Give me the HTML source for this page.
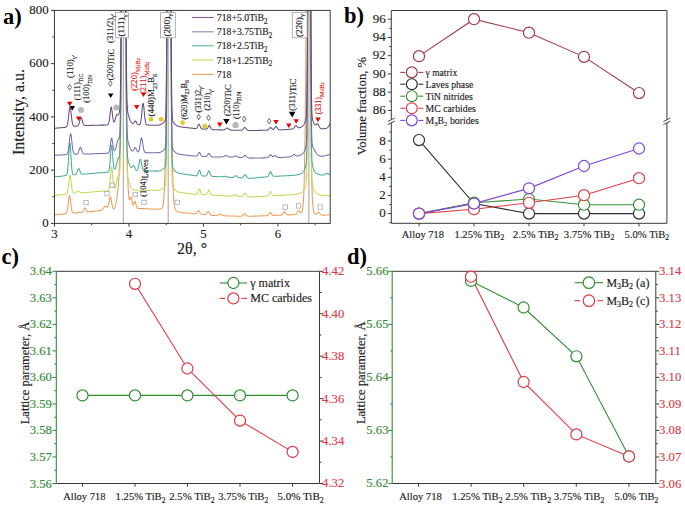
<!DOCTYPE html>
<html><head><meta charset="utf-8"><style>
html,body{margin:0;padding:0;background:#fff;}
svg{display:block;}
text{font-family:"Liberation Serif", serif;}
</style></head><body>
<svg width="685" height="507" viewBox="0 0 685 507">
<rect width="685" height="507" fill="#fff"/>
<clipPath id="clipA"><rect x="54.45" y="10.4" width="275.75" height="213.0"/></clipPath>
<line x1="123.30" y1="10.40" x2="123.30" y2="223.40" stroke="#8a8a8a" stroke-width="0.8" />
<line x1="168.20" y1="10.40" x2="168.20" y2="223.40" stroke="#8a8a8a" stroke-width="0.8" />
<line x1="308.90" y1="10.40" x2="308.90" y2="223.40" stroke="#8a8a8a" stroke-width="0.8" />
<g clip-path="url(#clipA)">
<path d="M54.45,214.94 L54.70,214.91 L54.95,214.89 L55.20,214.87 L55.45,214.84 L55.70,214.82 L55.95,214.79 L56.20,214.77 L56.45,214.75 L56.70,214.72 L56.95,214.70 L57.20,214.68 L57.45,214.65 L57.70,214.63 L57.95,214.60 L58.20,214.58 L58.45,214.55 L58.70,214.53 L58.95,214.51 L59.20,214.48 L59.45,214.46 L59.70,214.43 L59.95,214.41 L60.20,214.38 L60.45,214.35 L60.70,214.33 L60.95,214.30 L61.20,214.28 L61.45,214.25 L61.70,214.22 L61.95,214.20 L62.20,214.17 L62.45,214.14 L62.70,214.11 L62.95,214.08 L63.20,214.05 L63.45,214.02 L63.70,213.99 L63.95,213.95 L64.20,213.92 L64.45,213.88 L64.70,213.84 L64.95,213.80 L65.20,213.74 L65.45,213.67 L65.70,213.57 L65.95,213.43 L66.20,213.21 L66.45,212.89 L66.70,212.41 L66.95,211.72 L67.20,210.76 L67.45,209.49 L67.70,207.89 L67.95,205.97 L68.20,203.82 L68.45,201.56 L68.70,199.39 L68.95,197.52 L69.20,196.19 L69.45,195.60 L69.70,195.82 L69.95,196.83 L70.20,198.46 L70.45,200.50 L70.70,202.70 L70.95,204.87 L71.20,206.84 L71.45,208.53 L71.70,209.89 L71.95,210.92 L72.20,211.66 L72.45,212.17 L72.70,212.51 L72.95,212.71 L73.20,212.84 L73.45,212.90 L73.70,212.94 L73.95,212.95 L74.20,212.96 L74.45,212.95 L74.70,212.95 L74.95,212.93 L75.20,212.92 L75.45,212.91 L75.70,212.89 L75.95,212.88 L76.20,212.86 L76.45,212.84 L76.70,212.83 L76.95,212.81 L77.20,212.79 L77.45,212.77 L77.70,212.75 L77.95,212.73 L78.20,212.70 L78.45,212.68 L78.70,212.66 L78.95,212.64 L79.20,212.62 L79.45,212.59 L79.70,212.57 L79.95,212.54 L80.20,212.52 L80.45,212.49 L80.70,212.46 L80.95,212.42 L81.20,212.38 L81.45,212.33 L81.70,212.25 L81.95,212.15 L82.20,212.00 L82.45,211.80 L82.70,211.53 L82.95,211.19 L83.20,210.76 L83.45,210.27 L83.70,209.74 L83.95,209.20 L84.20,208.70 L84.45,208.29 L84.70,208.03 L84.95,207.94 L85.20,208.06 L85.45,208.34 L85.70,208.75 L85.95,209.22 L86.20,209.72 L86.45,210.20 L86.70,210.62 L86.95,210.96 L87.20,211.23 L87.45,211.43 L87.70,211.56 L87.95,211.64 L88.20,211.69 L88.45,211.71 L88.70,211.72 L88.95,211.71 L89.20,211.70 L89.45,211.68 L89.70,211.67 L89.95,211.65 L90.20,211.63 L90.45,211.61 L90.70,211.58 L90.95,211.56 L91.20,211.54 L91.45,211.52 L91.70,211.50 L91.95,211.48 L92.20,211.45 L92.45,211.43 L92.70,211.41 L92.95,211.39 L93.20,211.36 L93.45,211.34 L93.70,211.32 L93.95,211.29 L94.20,211.27 L94.45,211.25 L94.70,211.22 L94.95,211.20 L95.20,211.17 L95.45,211.15 L95.70,211.13 L95.95,211.10 L96.20,211.08 L96.45,211.05 L96.70,211.03 L96.95,211.00 L97.20,210.98 L97.45,210.95 L97.70,210.92 L97.95,210.89 L98.20,210.86 L98.45,210.83 L98.70,210.80 L98.95,210.76 L99.20,210.72 L99.45,210.67 L99.70,210.62 L99.95,210.56 L100.20,210.49 L100.45,210.42 L100.70,210.33 L100.95,210.22 L101.20,210.10 L101.45,209.95 L101.70,209.79 L101.95,209.59 L102.20,209.38 L102.45,209.14 L102.70,208.88 L102.95,208.61 L103.20,208.32 L103.45,208.02 L103.70,207.72 L103.95,207.43 L104.20,207.16 L104.45,206.91 L104.70,206.70 L104.95,206.53 L105.20,206.41 L105.45,206.34 L105.70,206.33 L105.95,206.37 L106.20,206.45 L106.45,206.57 L106.70,206.70 L106.95,206.83 L107.20,206.91 L107.45,206.91 L107.70,206.79 L107.95,206.49 L108.20,205.98 L108.45,205.21 L108.70,204.19 L108.95,202.93 L109.20,201.51 L109.45,200.05 L109.70,198.68 L109.95,197.58 L110.20,196.91 L110.45,196.78 L110.70,197.23 L110.95,198.20 L111.20,199.53 L111.45,201.08 L111.70,202.68 L111.95,204.19 L112.20,205.52 L112.45,206.62 L112.70,207.46 L112.95,208.05 L113.20,208.44 L113.45,208.65 L113.70,208.71 L113.95,208.65 L114.20,208.47 L114.45,208.18 L114.70,207.76 L114.95,207.21 L115.20,206.51 L115.45,205.65 L115.70,204.62 L115.95,203.43 L116.20,202.10 L116.45,200.65 L116.70,199.13 L116.95,197.55 L117.20,195.94 L117.45,194.28 L117.70,192.52 L117.95,190.52 L118.20,188.10 L118.45,185.01 L118.70,180.97 L118.95,175.67 L119.20,168.82 L119.45,160.13 L119.70,149.38 L119.95,136.40 L120.20,121.10 L120.45,103.42 L120.70,83.20 L120.95,59.53 L121.20,29.23 L121.45,-16.18 L121.70,-19.60 L121.95,-19.60 L122.20,-19.60 L122.45,-19.60 L122.70,-19.60 L122.95,-19.60 L123.20,-19.60 L123.45,-19.60 L123.70,-19.60 L123.95,-19.60 L124.20,-19.60 L124.45,-19.60 L124.70,-19.60 L124.95,-19.60 L125.20,-19.60 L125.45,4.72 L125.70,42.66 L125.95,69.83 L126.20,92.15 L126.45,111.63 L126.70,128.79 L126.95,143.72 L127.20,156.48 L127.45,167.16 L127.70,175.93 L127.95,182.98 L128.20,188.52 L128.45,192.74 L128.70,195.83 L128.95,197.94 L129.20,199.22 L129.45,199.79 L129.70,199.78 L129.95,199.36 L130.20,198.69 L130.45,197.97 L130.70,197.39 L130.95,197.14 L131.20,197.34 L131.45,198.01 L131.70,199.07 L131.95,200.37 L132.20,201.74 L132.45,203.01 L132.70,204.05 L132.95,204.76 L133.20,205.09 L133.45,205.03 L133.70,204.61 L133.95,203.94 L134.20,203.13 L134.45,202.35 L134.70,201.76 L134.95,201.51 L135.20,201.68 L135.45,202.23 L135.70,203.08 L135.95,204.07 L136.20,205.08 L136.45,206.00 L136.70,206.77 L136.95,207.36 L137.20,207.78 L137.45,208.06 L137.70,208.24 L137.95,208.34 L138.20,208.39 L138.45,208.42 L138.70,208.43 L138.95,208.44 L139.20,208.43 L139.45,208.43 L139.70,208.42 L139.95,208.42 L140.20,208.43 L140.45,208.44 L140.70,208.46 L140.95,208.47 L141.20,208.49 L141.45,208.50 L141.70,208.52 L141.95,208.53 L142.20,208.54 L142.45,208.56 L142.70,208.57 L142.95,208.58 L143.20,208.60 L143.45,208.61 L143.70,208.62 L143.95,208.63 L144.20,208.65 L144.45,208.66 L144.70,208.67 L144.95,208.68 L145.20,208.69 L145.45,208.71 L145.70,208.72 L145.95,208.73 L146.20,208.74 L146.45,208.75 L146.70,208.77 L146.95,208.78 L147.20,208.79 L147.45,208.80 L147.70,208.81 L147.95,208.82 L148.20,208.83 L148.45,208.85 L148.70,208.86 L148.95,208.87 L149.20,208.88 L149.45,208.89 L149.70,208.90 L149.95,208.91 L150.20,208.92 L150.45,208.94 L150.70,208.95 L150.95,208.96 L151.20,208.97 L151.45,208.98 L151.70,208.99 L151.95,209.00 L152.20,209.01 L152.45,209.02 L152.70,209.04 L152.95,209.05 L153.20,209.06 L153.45,209.07 L153.70,209.08 L153.95,209.09 L154.20,209.10 L154.45,209.11 L154.70,209.12 L154.95,209.13 L155.20,209.14 L155.45,209.15 L155.70,209.15 L155.95,209.16 L156.20,209.17 L156.45,209.17 L156.70,209.17 L156.95,209.18 L157.20,209.18 L157.45,209.17 L157.70,209.17 L157.95,209.16 L158.20,209.15 L158.45,209.14 L158.70,209.12 L158.95,209.10 L159.20,209.07 L159.45,209.03 L159.70,208.99 L159.95,208.94 L160.20,208.88 L160.45,208.81 L160.70,208.73 L160.95,208.63 L161.20,208.50 L161.45,208.35 L161.70,208.15 L161.95,207.88 L162.20,207.52 L162.45,207.03 L162.70,206.34 L162.95,205.40 L163.20,204.11 L163.45,202.33 L163.70,199.91 L163.95,196.63 L164.20,192.29 L164.45,186.62 L164.70,179.38 L164.95,170.28 L165.20,159.11 L165.45,145.66 L165.70,129.79 L165.95,111.38 L166.20,89.99 L166.45,64.00 L166.70,28.55 L166.95,-19.60 L167.20,-19.60 L167.45,-19.60 L167.70,-19.60 L167.95,-19.60 L168.20,-19.60 L168.45,-19.60 L168.70,-19.60 L168.95,-19.60 L169.20,-19.60 L169.45,-19.60 L169.70,-19.60 L169.95,-19.60 L170.20,-19.60 L170.45,-19.60 L170.70,-13.54 L170.95,37.53 L171.20,70.52 L171.45,95.43 L171.70,116.24 L171.95,134.20 L172.20,149.66 L172.45,162.72 L172.70,173.55 L172.95,182.33 L173.20,189.33 L173.45,194.79 L173.70,198.98 L173.95,202.15 L174.20,204.52 L174.45,206.26 L174.70,207.54 L174.95,208.48 L175.20,209.17 L175.45,209.69 L175.70,210.08 L175.95,210.38 L176.20,210.63 L176.45,210.83 L176.70,211.00 L176.95,211.15 L177.20,211.28 L177.45,211.40 L177.70,211.51 L177.95,211.61 L178.20,211.70 L178.45,211.79 L178.70,211.87 L178.95,211.94 L179.20,212.01 L179.45,212.08 L179.70,212.14 L179.95,212.20 L180.20,212.24 L180.45,212.28 L180.70,212.31 L180.95,212.35 L181.20,212.38 L181.45,212.41 L181.70,212.44 L181.95,212.47 L182.20,212.50 L182.45,212.53 L182.70,212.55 L182.95,212.58 L183.20,212.61 L183.45,212.63 L183.70,212.66 L183.95,212.68 L184.20,212.71 L184.45,212.73 L184.70,212.76 L184.95,212.78 L185.20,212.81 L185.45,212.83 L185.70,212.86 L185.95,212.88 L186.20,212.91 L186.45,212.93 L186.70,212.96 L186.95,212.98 L187.20,213.01 L187.45,213.03 L187.70,213.06 L187.95,213.08 L188.20,213.10 L188.45,213.13 L188.70,213.15 L188.95,213.18 L189.20,213.20 L189.45,213.23 L189.70,213.25 L189.95,213.28 L190.20,213.30 L190.45,213.32 L190.70,213.35 L190.95,213.37 L191.20,213.40 L191.45,213.42 L191.70,213.44 L191.95,213.47 L192.20,213.49 L192.45,213.51 L192.70,213.54 L192.95,213.56 L193.20,213.58 L193.45,213.60 L193.70,213.62 L193.95,213.64 L194.20,213.66 L194.45,213.67 L194.70,213.67 L194.95,213.66 L195.20,213.63 L195.45,213.58 L195.70,213.49 L195.95,213.36 L196.20,213.18 L196.45,212.94 L196.70,212.65 L196.95,212.31 L197.20,211.94 L197.45,211.56 L197.70,211.20 L197.95,210.91 L198.20,210.71 L198.45,210.63 L198.70,210.70 L198.95,210.90 L199.20,211.21 L199.45,211.60 L199.70,212.02 L199.95,212.45 L200.20,212.85 L200.45,213.21 L200.70,213.52 L200.95,213.77 L201.20,213.97 L201.45,214.12 L201.70,214.24 L201.95,214.32 L202.20,214.39 L202.45,214.44 L202.70,214.48 L202.95,214.51 L203.20,214.54 L203.45,214.56 L203.70,214.59 L203.95,214.61 L204.20,214.62 L204.45,214.63 L204.70,214.62 L204.95,214.60 L205.20,214.55 L205.45,214.48 L205.70,214.36 L205.95,214.19 L206.20,213.96 L206.45,213.68 L206.70,213.35 L206.95,212.99 L207.20,212.61 L207.45,212.24 L207.70,211.93 L207.95,211.71 L208.20,211.61 L208.45,211.65 L208.70,211.83 L208.95,212.12 L209.20,212.49 L209.45,212.91 L209.70,213.35 L209.95,213.76 L210.20,214.13 L210.45,214.45 L210.70,214.71 L210.95,214.92 L211.20,215.08 L211.45,215.21 L211.70,215.30 L211.95,215.37 L212.20,215.40 L212.45,215.43 L212.70,215.45 L212.95,215.46 L213.20,215.47 L213.45,215.48 L213.70,215.49 L213.95,215.50 L214.20,215.51 L214.45,215.51 L214.70,215.52 L214.95,215.52 L215.20,215.52 L215.45,215.52 L215.70,215.52 L215.95,215.51 L216.20,215.49 L216.45,215.46 L216.70,215.43 L216.95,215.38 L217.20,215.32 L217.45,215.25 L217.70,215.17 L217.95,215.07 L218.20,214.96 L218.45,214.84 L218.70,214.71 L218.95,214.59 L219.20,214.48 L219.45,214.38 L219.70,214.29 L219.95,214.24 L220.20,214.22 L220.45,214.23 L220.70,214.27 L220.95,214.35 L221.20,214.45 L221.45,214.57 L221.70,214.70 L221.95,214.83 L222.20,214.97 L222.45,215.10 L222.70,215.23 L222.95,215.34 L223.20,215.43 L223.45,215.52 L223.70,215.59 L223.95,215.65 L224.20,215.70 L224.45,215.73 L224.70,215.76 L224.95,215.79 L225.20,215.81 L225.45,215.83 L225.70,215.84 L225.95,215.85 L226.20,215.86 L226.45,215.87 L226.70,215.88 L226.95,215.89 L227.20,215.90 L227.45,215.90 L227.70,215.91 L227.95,215.92 L228.20,215.93 L228.45,215.94 L228.70,215.94 L228.95,215.95 L229.20,215.96 L229.45,215.96 L229.70,215.97 L229.95,215.98 L230.20,215.99 L230.45,215.99 L230.70,216.00 L230.95,216.01 L231.20,216.02 L231.45,216.02 L231.70,216.03 L231.95,216.04 L232.20,216.04 L232.45,216.05 L232.70,216.06 L232.95,216.06 L233.20,216.07 L233.45,216.08 L233.70,216.08 L233.95,216.09 L234.20,216.10 L234.45,216.10 L234.70,216.11 L234.95,216.12 L235.20,216.12 L235.45,216.13 L235.70,216.14 L235.95,216.14 L236.20,216.15 L236.45,216.16 L236.70,216.16 L236.95,216.17 L237.20,216.18 L237.45,216.18 L237.70,216.19 L237.95,216.19 L238.20,216.20 L238.45,216.21 L238.70,216.21 L238.95,216.22 L239.20,216.22 L239.45,216.23 L239.70,216.23 L239.95,216.23 L240.20,216.23 L240.45,216.23 L240.70,216.23 L240.95,216.21 L241.20,216.18 L241.45,216.14 L241.70,216.07 L241.95,215.97 L242.20,215.84 L242.45,215.67 L242.70,215.46 L242.95,215.21 L243.20,214.93 L243.45,214.64 L243.70,214.36 L243.95,214.11 L244.20,213.92 L244.45,213.81 L244.70,213.80 L244.95,213.89 L245.20,214.07 L245.45,214.31 L245.70,214.58 L245.95,214.87 L246.20,215.15 L246.45,215.41 L246.70,215.63 L246.95,215.81 L247.20,215.95 L247.45,216.05 L247.70,216.12 L247.95,216.17 L248.20,216.21 L248.45,216.23 L248.70,216.25 L248.95,216.26 L249.20,216.26 L249.45,216.27 L249.70,216.27 L249.95,216.27 L250.20,216.27 L250.45,216.26 L250.70,216.25 L250.95,216.25 L251.20,216.24 L251.45,216.23 L251.70,216.22 L251.95,216.21 L252.20,216.21 L252.45,216.20 L252.70,216.19 L252.95,216.18 L253.20,216.17 L253.45,216.17 L253.70,216.16 L253.95,216.15 L254.20,216.14 L254.45,216.13 L254.70,216.13 L254.95,216.12 L255.20,216.11 L255.45,216.10 L255.70,216.09 L255.95,216.08 L256.20,216.07 L256.45,216.07 L256.70,216.06 L256.95,216.05 L257.20,216.04 L257.45,216.03 L257.70,216.02 L257.95,216.01 L258.20,216.01 L258.45,216.00 L258.70,215.99 L258.95,215.98 L259.20,215.97 L259.45,215.96 L259.70,215.95 L259.95,215.94 L260.20,215.94 L260.45,215.93 L260.70,215.92 L260.95,215.91 L261.20,215.90 L261.45,215.89 L261.70,215.88 L261.95,215.87 L262.20,215.86 L262.45,215.85 L262.70,215.84 L262.95,215.84 L263.20,215.83 L263.45,215.82 L263.70,215.81 L263.95,215.80 L264.20,215.79 L264.45,215.78 L264.70,215.76 L264.95,215.75 L265.20,215.74 L265.45,215.73 L265.70,215.71 L265.95,215.69 L266.20,215.67 L266.45,215.63 L266.70,215.59 L266.95,215.52 L267.20,215.43 L267.45,215.30 L267.70,215.14 L267.95,214.92 L268.20,214.66 L268.45,214.36 L268.70,214.02 L268.95,213.66 L269.20,213.31 L269.45,213.01 L269.70,212.77 L269.95,212.63 L270.20,212.61 L270.45,212.71 L270.70,212.91 L270.95,213.19 L271.20,213.51 L271.45,213.85 L271.70,214.18 L271.95,214.48 L272.20,214.73 L272.45,214.94 L272.70,215.09 L272.95,215.21 L273.20,215.29 L273.45,215.34 L273.70,215.38 L273.95,215.39 L274.20,215.40 L274.45,215.40 L274.70,215.40 L274.95,215.40 L275.20,215.39 L275.45,215.39 L275.70,215.38 L275.95,215.37 L276.20,215.37 L276.45,215.36 L276.70,215.35 L276.95,215.34 L277.20,215.33 L277.45,215.32 L277.70,215.31 L277.95,215.31 L278.20,215.30 L278.45,215.29 L278.70,215.28 L278.95,215.27 L279.20,215.25 L279.45,215.24 L279.70,215.23 L279.95,215.21 L280.20,215.19 L280.45,215.17 L280.70,215.13 L280.95,215.08 L281.20,215.01 L281.45,214.92 L281.70,214.78 L281.95,214.60 L282.20,214.36 L282.45,214.07 L282.70,213.72 L282.95,213.33 L283.20,212.92 L283.45,212.51 L283.70,212.14 L283.95,211.85 L284.20,211.66 L284.45,211.61 L284.70,211.70 L284.95,211.92 L285.20,212.23 L285.45,212.60 L285.70,213.00 L285.95,213.39 L286.20,213.74 L286.45,214.05 L286.70,214.30 L286.95,214.50 L287.20,214.65 L287.45,214.75 L287.70,214.82 L287.95,214.86 L288.20,214.88 L288.45,214.89 L288.70,214.89 L288.95,214.88 L289.20,214.88 L289.45,214.86 L289.70,214.85 L289.95,214.84 L290.20,214.83 L290.45,214.81 L290.70,214.80 L290.95,214.79 L291.20,214.77 L291.45,214.76 L291.70,214.74 L291.95,214.73 L292.20,214.71 L292.45,214.70 L292.70,214.68 L292.95,214.67 L293.20,214.65 L293.45,214.63 L293.70,214.61 L293.95,214.59 L294.20,214.57 L294.45,214.54 L294.70,214.50 L294.95,214.46 L295.20,214.40 L295.45,214.31 L295.70,214.20 L295.95,214.04 L296.20,213.84 L296.45,213.58 L296.70,213.26 L296.95,212.89 L297.20,212.47 L297.45,212.04 L297.70,211.61 L297.95,211.23 L298.20,210.92 L298.45,210.73 L298.70,210.67 L298.95,210.75 L299.20,210.94 L299.45,211.21 L299.70,211.53 L299.95,211.86 L300.20,212.19 L300.45,212.47 L300.70,212.68 L300.95,212.80 L301.20,212.83 L301.45,212.74 L301.70,212.52 L301.95,212.12 L302.20,211.50 L302.45,210.56 L302.70,209.20 L302.95,207.26 L303.20,204.56 L303.45,200.86 L303.70,195.90 L303.95,189.39 L304.20,181.01 L304.45,170.49 L304.70,157.55 L304.95,141.98 L305.20,123.55 L305.45,101.62 L305.70,74.08 L305.95,35.01 L306.20,-19.60 L306.45,-19.60 L306.70,-19.60 L306.95,-19.60 L307.20,-19.60 L307.45,-19.60 L307.70,-19.60 L307.95,-19.60 L308.20,-19.60 L308.45,-19.60 L308.70,-19.60 L308.95,-19.60 L309.20,-19.60 L309.45,-19.60 L309.70,-19.60 L309.95,13.65 L310.20,60.59 L310.45,91.72 L310.70,115.53 L310.95,135.27 L311.20,151.96 L311.45,165.95 L311.70,177.44 L311.95,186.67 L312.20,193.92 L312.45,199.49 L312.70,203.68 L312.95,206.78 L313.20,209.03 L313.45,210.65 L313.70,211.78 L313.95,212.59 L314.20,213.15 L314.45,213.54 L314.70,213.81 L314.95,214.01 L315.20,214.14 L315.45,214.22 L315.70,214.26 L315.95,214.24 L316.20,214.18 L316.45,214.06 L316.70,213.89 L316.95,213.67 L317.20,213.40 L317.45,213.10 L317.70,212.79 L317.95,212.51 L318.20,212.28 L318.45,212.14 L318.70,212.11 L318.95,212.20 L319.20,212.39 L319.45,212.67 L319.70,213.01 L319.95,213.38 L320.20,213.74 L320.45,214.07 L320.70,214.37 L320.95,214.62 L321.20,214.82 L321.45,214.97 L321.70,215.09 L321.95,215.18 L322.20,215.24 L322.45,215.28 L322.70,215.32 L322.95,215.34 L323.20,215.33 L323.45,215.32 L323.70,215.30 L323.95,215.27 L324.20,215.25 L324.45,215.23 L324.70,215.21 L324.95,215.18 L325.20,215.16 L325.45,215.14 L325.70,215.11 L325.95,215.09 L326.20,215.06 L326.45,215.04 L326.70,215.02 L326.95,214.99 L327.20,214.97 L327.45,214.94 L327.70,214.92 L327.95,214.89 L328.20,214.87 L328.45,214.84 L328.70,214.82 L328.95,214.80 L329.20,214.77 L329.45,214.75 L329.70,214.72 L329.95,214.70 L330.20,214.67" fill="none" stroke="#f09a55" stroke-width="1.05" stroke-linejoin="round"/>
<path d="M54.45,195.44 L54.70,195.41 L54.95,195.39 L55.20,195.36 L55.45,195.34 L55.70,195.32 L55.95,195.29 L56.20,195.27 L56.45,195.25 L56.70,195.22 L56.95,195.20 L57.20,195.17 L57.45,195.15 L57.70,195.13 L57.95,195.10 L58.20,195.08 L58.45,195.05 L58.70,195.03 L58.95,195.01 L59.20,194.98 L59.45,194.96 L59.70,194.93 L59.95,194.91 L60.20,194.88 L60.45,194.86 L60.70,194.83 L60.95,194.80 L61.20,194.78 L61.45,194.75 L61.70,194.73 L61.95,194.70 L62.20,194.67 L62.45,194.64 L62.70,194.62 L62.95,194.59 L63.20,194.56 L63.45,194.53 L63.70,194.50 L63.95,194.47 L64.20,194.43 L64.45,194.40 L64.70,194.36 L64.95,194.33 L65.20,194.28 L65.45,194.24 L65.70,194.18 L65.95,194.10 L66.20,194.00 L66.45,193.85 L66.70,193.62 L66.95,193.28 L67.20,192.78 L67.45,192.05 L67.70,191.04 L67.95,189.70 L68.20,188.01 L68.45,185.99 L68.70,183.72 L68.95,181.34 L69.20,179.04 L69.45,177.07 L69.70,175.67 L69.95,175.04 L70.20,175.28 L70.45,176.35 L70.70,178.07 L70.95,180.22 L71.20,182.54 L71.45,184.83 L71.70,186.92 L71.95,188.70 L72.20,190.12 L72.45,191.21 L72.70,191.99 L72.95,192.52 L73.20,192.86 L73.45,193.06 L73.70,193.16 L73.95,193.20 L74.20,193.19 L74.45,193.15 L74.70,193.08 L74.95,192.99 L75.20,192.87 L75.45,192.73 L75.70,192.57 L75.95,192.40 L76.20,192.22 L76.45,192.03 L76.70,191.84 L76.95,191.67 L77.20,191.51 L77.45,191.38 L77.70,191.29 L77.95,191.24 L78.20,191.23 L78.45,191.27 L78.70,191.35 L78.95,191.46 L79.20,191.59 L79.45,191.74 L79.70,191.89 L79.95,192.04 L80.20,192.19 L80.45,192.32 L80.70,192.43 L80.95,192.53 L81.20,192.61 L81.45,192.67 L81.70,192.71 L81.95,192.74 L82.20,192.76 L82.45,192.77 L82.70,192.77 L82.95,192.76 L83.20,192.75 L83.45,192.74 L83.70,192.72 L83.95,192.70 L84.20,192.69 L84.45,192.67 L84.70,192.65 L84.95,192.62 L85.20,192.60 L85.45,192.58 L85.70,192.56 L85.95,192.54 L86.20,192.52 L86.45,192.50 L86.70,192.47 L86.95,192.45 L87.20,192.43 L87.45,192.41 L87.70,192.39 L87.95,192.36 L88.20,192.34 L88.45,192.32 L88.70,192.30 L88.95,192.27 L89.20,192.25 L89.45,192.23 L89.70,192.21 L89.95,192.18 L90.20,192.16 L90.45,192.14 L90.70,192.12 L90.95,192.09 L91.20,192.07 L91.45,192.05 L91.70,192.03 L91.95,192.00 L92.20,191.98 L92.45,191.96 L92.70,191.93 L92.95,191.91 L93.20,191.89 L93.45,191.87 L93.70,191.84 L93.95,191.82 L94.20,191.80 L94.45,191.77 L94.70,191.75 L94.95,191.73 L95.20,191.70 L95.45,191.68 L95.70,191.66 L95.95,191.63 L96.20,191.61 L96.45,191.59 L96.70,191.56 L96.95,191.54 L97.20,191.52 L97.45,191.49 L97.70,191.47 L97.95,191.45 L98.20,191.42 L98.45,191.40 L98.70,191.37 L98.95,191.35 L99.20,191.33 L99.45,191.30 L99.70,191.28 L99.95,191.25 L100.20,191.24 L100.45,191.23 L100.70,191.22 L100.95,191.22 L101.20,191.21 L101.45,191.20 L101.70,191.19 L101.95,191.18 L102.20,191.17 L102.45,191.16 L102.70,191.15 L102.95,191.14 L103.20,191.13 L103.45,191.12 L103.70,191.11 L103.95,191.09 L104.20,191.08 L104.45,191.07 L104.70,191.05 L104.95,191.04 L105.20,191.02 L105.45,191.01 L105.70,190.99 L105.95,190.97 L106.20,190.95 L106.45,190.93 L106.70,190.90 L106.95,190.87 L107.20,190.84 L107.45,190.79 L107.70,190.73 L107.95,190.64 L108.20,190.49 L108.45,190.25 L108.70,189.87 L108.95,189.27 L109.20,188.35 L109.45,187.04 L109.70,185.25 L109.95,182.94 L110.20,180.15 L110.45,177.02 L110.70,173.79 L110.95,170.80 L111.20,168.42 L111.45,167.03 L111.70,166.86 L111.95,167.93 L112.20,170.05 L112.45,172.86 L112.70,175.96 L112.95,179.02 L113.20,181.76 L113.45,184.02 L113.70,185.74 L113.95,186.93 L114.20,187.66 L114.45,188.01 L114.70,188.04 L114.95,187.84 L115.20,187.43 L115.45,186.85 L115.70,186.11 L115.95,185.24 L116.20,184.26 L116.45,183.18 L116.70,182.05 L116.95,180.92 L117.20,179.84 L117.45,178.86 L117.70,178.02 L117.95,177.34 L118.20,176.84 L118.45,176.46 L118.70,176.16 L118.95,175.86 L119.20,175.40 L119.45,174.58 L119.70,172.98 L119.95,169.88 L120.20,164.06 L120.45,153.52 L120.70,135.33 L120.95,105.50 L121.20,59.19 L121.45,-8.63 L121.70,-19.60 L121.95,-19.60 L122.20,-19.60 L122.45,-19.60 L122.70,-19.60 L122.95,-19.60 L123.20,-19.60 L123.45,-19.60 L123.70,-19.60 L123.95,-19.60 L124.20,-19.60 L124.45,-19.60 L124.70,-19.60 L124.95,-19.60 L125.20,-19.60 L125.45,-19.60 L125.70,-19.60 L125.95,47.71 L126.20,98.06 L126.45,130.96 L126.70,151.37 L126.95,163.50 L127.20,170.49 L127.45,174.51 L127.70,176.90 L127.95,178.47 L128.20,179.62 L128.45,180.57 L128.70,181.41 L128.95,182.20 L129.20,182.94 L129.45,183.64 L129.70,184.29 L129.95,184.91 L130.20,185.48 L130.45,186.02 L130.70,186.51 L130.95,186.96 L131.20,187.37 L131.45,187.74 L131.70,188.07 L131.95,188.37 L132.20,188.64 L132.45,188.88 L132.70,189.08 L132.95,189.27 L133.20,189.42 L133.45,189.56 L133.70,189.68 L133.95,189.78 L134.20,189.87 L134.45,189.94 L134.70,190.00 L134.95,190.05 L135.20,190.09 L135.45,190.13 L135.70,190.15 L135.95,190.17 L136.20,190.19 L136.45,190.20 L136.70,190.21 L136.95,190.22 L137.20,190.22 L137.45,190.22 L137.70,190.22 L137.95,190.22 L138.20,190.22 L138.45,190.21 L138.70,190.21 L138.95,190.21 L139.20,190.20 L139.45,190.20 L139.70,190.19 L139.95,190.18 L140.20,190.19 L140.45,190.19 L140.70,190.19 L140.95,190.20 L141.20,190.20 L141.45,190.20 L141.70,190.21 L141.95,190.21 L142.20,190.21 L142.45,190.22 L142.70,190.22 L142.95,190.22 L143.20,190.23 L143.45,190.23 L143.70,190.23 L143.95,190.24 L144.20,190.24 L144.45,190.24 L144.70,190.25 L144.95,190.25 L145.20,190.25 L145.45,190.26 L145.70,190.26 L145.95,190.26 L146.20,190.27 L146.45,190.27 L146.70,190.27 L146.95,190.28 L147.20,190.28 L147.45,190.28 L147.70,190.28 L147.95,190.29 L148.20,190.29 L148.45,190.29 L148.70,190.30 L148.95,190.30 L149.20,190.30 L149.45,190.31 L149.70,190.31 L149.95,190.31 L150.20,190.32 L150.45,190.32 L150.70,190.32 L150.95,190.33 L151.20,190.33 L151.45,190.33 L151.70,190.34 L151.95,190.34 L152.20,190.34 L152.45,190.34 L152.70,190.35 L152.95,190.35 L153.20,190.35 L153.45,190.36 L153.70,190.36 L153.95,190.36 L154.20,190.36 L154.45,190.37 L154.70,190.37 L154.95,190.37 L155.20,190.37 L155.45,190.37 L155.70,190.37 L155.95,190.37 L156.20,190.37 L156.45,190.36 L156.70,190.36 L156.95,190.35 L157.20,190.35 L157.45,190.34 L157.70,190.32 L157.95,190.31 L158.20,190.29 L158.45,190.27 L158.70,190.24 L158.95,190.21 L159.20,190.17 L159.45,190.12 L159.70,190.07 L159.95,190.02 L160.20,189.95 L160.45,189.87 L160.70,189.79 L160.95,189.69 L161.20,189.58 L161.45,189.46 L161.70,189.33 L161.95,189.19 L162.20,189.03 L162.45,188.86 L162.70,188.67 L162.95,188.48 L163.20,188.27 L163.45,188.04 L163.70,187.81 L163.95,187.56 L164.20,187.33 L164.45,187.08 L164.70,186.79 L164.95,186.39 L165.20,185.75 L165.45,184.50 L165.70,181.89 L165.95,176.48 L166.20,165.70 L166.45,145.46 L166.70,109.97 L166.95,52.16 L167.20,-19.60 L167.45,-19.60 L167.70,-19.60 L167.95,-19.60 L168.20,-19.60 L168.45,-19.60 L168.70,-19.60 L168.95,-19.60 L169.20,-19.60 L169.45,-19.60 L169.70,-19.60 L169.95,-19.60 L170.20,-19.60 L170.45,-19.60 L170.70,-19.60 L170.95,21.64 L171.20,90.49 L171.45,134.08 L171.70,159.70 L171.95,173.74 L172.20,180.98 L172.45,184.54 L172.70,186.28 L172.95,187.17 L173.20,187.70 L173.45,188.08 L173.70,188.40 L173.95,188.70 L174.20,188.99 L174.45,189.26 L174.70,189.52 L174.95,189.77 L175.20,190.01 L175.45,190.23 L175.70,190.45 L175.95,190.64 L176.20,190.83 L176.45,191.00 L176.70,191.16 L176.95,191.30 L177.20,191.44 L177.45,191.56 L177.70,191.68 L177.95,191.78 L178.20,191.88 L178.45,191.96 L178.70,192.05 L178.95,192.12 L179.20,192.19 L179.45,192.25 L179.70,192.31 L179.95,192.37 L180.20,192.42 L180.45,192.46 L180.70,192.51 L180.95,192.55 L181.20,192.59 L181.45,192.63 L181.70,192.67 L181.95,192.71 L182.20,192.74 L182.45,192.78 L182.70,192.81 L182.95,192.85 L183.20,192.88 L183.45,192.91 L183.70,192.94 L183.95,192.98 L184.20,193.01 L184.45,193.04 L184.70,193.07 L184.95,193.10 L185.20,193.13 L185.45,193.16 L185.70,193.20 L185.95,193.23 L186.20,193.26 L186.45,193.29 L186.70,193.32 L186.95,193.35 L187.20,193.38 L187.45,193.41 L187.70,193.44 L187.95,193.47 L188.20,193.50 L188.45,193.54 L188.70,193.57 L188.95,193.60 L189.20,193.63 L189.45,193.66 L189.70,193.69 L189.95,193.72 L190.20,193.75 L190.45,193.78 L190.70,193.81 L190.95,193.84 L191.20,193.87 L191.45,193.90 L191.70,193.93 L191.95,193.96 L192.20,193.99 L192.45,194.02 L192.70,194.05 L192.95,194.08 L193.20,194.11 L193.45,194.14 L193.70,194.17 L193.95,194.19 L194.20,194.22 L194.45,194.25 L194.70,194.28 L194.95,194.30 L195.20,194.32 L195.45,194.34 L195.70,194.36 L195.95,194.36 L196.20,194.33 L196.45,194.26 L196.70,194.15 L196.95,193.97 L197.20,193.70 L197.45,193.33 L197.70,192.83 L197.95,192.23 L198.20,191.54 L198.45,190.82 L198.70,190.13 L198.95,189.57 L199.20,189.22 L199.45,189.14 L199.70,189.35 L199.95,189.82 L200.20,190.46 L200.45,191.19 L200.70,191.93 L200.95,192.61 L201.20,193.20 L201.45,193.66 L201.70,194.01 L201.95,194.26 L202.20,194.43 L202.45,194.54 L202.70,194.62 L202.95,194.66 L203.20,194.70 L203.45,194.72 L203.70,194.74 L203.95,194.75 L204.20,194.76 L204.45,194.77 L204.70,194.78 L204.95,194.79 L205.20,194.78 L205.45,194.77 L205.70,194.74 L205.95,194.68 L206.20,194.58 L206.45,194.42 L206.70,194.18 L206.95,193.85 L207.20,193.40 L207.45,192.85 L207.70,192.23 L207.95,191.57 L208.20,190.95 L208.45,190.44 L208.70,190.12 L208.95,190.06 L209.20,190.25 L209.45,190.68 L209.70,191.27 L209.95,191.93 L210.20,192.61 L210.45,193.23 L210.70,193.76 L210.95,194.19 L211.20,194.51 L211.45,194.74 L211.70,194.89 L211.95,195.00 L212.20,195.07 L212.45,195.11 L212.70,195.15 L212.95,195.17 L213.20,195.19 L213.45,195.21 L213.70,195.23 L213.95,195.24 L214.20,195.26 L214.45,195.27 L214.70,195.28 L214.95,195.30 L215.20,195.31 L215.45,195.32 L215.70,195.34 L215.95,195.35 L216.20,195.36 L216.45,195.38 L216.70,195.39 L216.95,195.40 L217.20,195.41 L217.45,195.43 L217.70,195.44 L217.95,195.45 L218.20,195.46 L218.45,195.48 L218.70,195.49 L218.95,195.50 L219.20,195.51 L219.45,195.52 L219.70,195.53 L219.95,195.55 L220.20,195.56 L220.45,195.57 L220.70,195.58 L220.95,195.59 L221.20,195.61 L221.45,195.62 L221.70,195.63 L221.95,195.64 L222.20,195.65 L222.45,195.66 L222.70,195.67 L222.95,195.69 L223.20,195.70 L223.45,195.71 L223.70,195.72 L223.95,195.73 L224.20,195.74 L224.45,195.76 L224.70,195.77 L224.95,195.78 L225.20,195.79 L225.45,195.80 L225.70,195.81 L225.95,195.82 L226.20,195.83 L226.45,195.85 L226.70,195.86 L226.95,195.87 L227.20,195.88 L227.45,195.89 L227.70,195.90 L227.95,195.91 L228.20,195.92 L228.45,195.93 L228.70,195.95 L228.95,195.96 L229.20,195.97 L229.45,195.98 L229.70,195.99 L229.95,196.00 L230.20,196.01 L230.45,196.02 L230.70,196.03 L230.95,196.04 L231.20,196.04 L231.45,196.05 L231.70,196.05 L231.95,196.04 L232.20,196.02 L232.45,196.00 L232.70,195.95 L232.95,195.89 L233.20,195.80 L233.45,195.69 L233.70,195.56 L233.95,195.41 L234.20,195.25 L234.45,195.09 L234.70,194.94 L234.95,194.83 L235.20,194.77 L235.45,194.76 L235.70,194.81 L235.95,194.92 L236.20,195.07 L236.45,195.24 L236.70,195.42 L236.95,195.61 L237.20,195.77 L237.45,195.92 L237.70,196.04 L237.95,196.14 L238.20,196.22 L238.45,196.27 L238.70,196.32 L238.95,196.35 L239.20,196.37 L239.45,196.39 L239.70,196.41 L239.95,196.42 L240.20,196.43 L240.45,196.44 L240.70,196.44 L240.95,196.45 L241.20,196.44 L241.45,196.42 L241.70,196.39 L241.95,196.34 L242.20,196.26 L242.45,196.13 L242.70,195.96 L242.95,195.74 L243.20,195.45 L243.45,195.12 L243.70,194.74 L243.95,194.35 L244.20,193.97 L244.45,193.63 L244.70,193.38 L244.95,193.24 L245.20,193.24 L245.45,193.38 L245.70,193.63 L245.95,193.98 L246.20,194.38 L246.45,194.80 L246.70,195.21 L246.95,195.57 L247.20,195.89 L247.45,196.16 L247.70,196.36 L247.95,196.52 L248.20,196.64 L248.45,196.72 L248.70,196.78 L248.95,196.83 L249.20,196.86 L249.45,196.88 L249.70,196.91 L249.95,196.92 L250.20,196.92 L250.45,196.91 L250.70,196.90 L250.95,196.90 L251.20,196.89 L251.45,196.88 L251.70,196.87 L251.95,196.86 L252.20,196.84 L252.45,196.83 L252.70,196.82 L252.95,196.81 L253.20,196.80 L253.45,196.79 L253.70,196.78 L253.95,196.77 L254.20,196.76 L254.45,196.75 L254.70,196.74 L254.95,196.72 L255.20,196.71 L255.45,196.70 L255.70,196.69 L255.95,196.68 L256.20,196.67 L256.45,196.66 L256.70,196.64 L256.95,196.63 L257.20,196.62 L257.45,196.61 L257.70,196.60 L257.95,196.59 L258.20,196.57 L258.45,196.56 L258.70,196.55 L258.95,196.54 L259.20,196.53 L259.45,196.52 L259.70,196.50 L259.95,196.49 L260.20,196.48 L260.45,196.47 L260.70,196.46 L260.95,196.44 L261.20,196.43 L261.45,196.42 L261.70,196.41 L261.95,196.39 L262.20,196.38 L262.45,196.37 L262.70,196.36 L262.95,196.34 L263.20,196.33 L263.45,196.32 L263.70,196.30 L263.95,196.29 L264.20,196.28 L264.45,196.26 L264.70,196.25 L264.95,196.24 L265.20,196.22 L265.45,196.21 L265.70,196.19 L265.95,196.18 L266.20,196.16 L266.45,196.14 L266.70,196.11 L266.95,196.08 L267.20,196.04 L267.45,195.97 L267.70,195.88 L267.95,195.73 L268.20,195.53 L268.45,195.24 L268.70,194.85 L268.95,194.37 L269.20,193.81 L269.45,193.20 L269.70,192.60 L269.95,192.07 L270.20,191.68 L270.45,191.50 L270.70,191.56 L270.95,191.85 L271.20,192.31 L271.45,192.86 L271.70,193.45 L271.95,194.01 L272.20,194.50 L272.45,194.90 L272.70,195.20 L272.95,195.41 L273.20,195.55 L273.45,195.64 L273.70,195.69 L273.95,195.71 L274.20,195.72 L274.45,195.72 L274.70,195.72 L274.95,195.71 L275.20,195.70 L275.45,195.69 L275.70,195.68 L275.95,195.66 L276.20,195.65 L276.45,195.64 L276.70,195.63 L276.95,195.61 L277.20,195.60 L277.45,195.59 L277.70,195.57 L277.95,195.56 L278.20,195.54 L278.45,195.53 L278.70,195.52 L278.95,195.50 L279.20,195.49 L279.45,195.47 L279.70,195.46 L279.95,195.44 L280.20,195.43 L280.45,195.41 L280.70,195.40 L280.95,195.38 L281.20,195.37 L281.45,195.35 L281.70,195.34 L281.95,195.32 L282.20,195.31 L282.45,195.29 L282.70,195.27 L282.95,195.26 L283.20,195.24 L283.45,195.23 L283.70,195.21 L283.95,195.19 L284.20,195.18 L284.45,195.16 L284.70,195.14 L284.95,195.13 L285.20,195.11 L285.45,195.09 L285.70,195.08 L285.95,195.06 L286.20,195.04 L286.45,195.02 L286.70,195.01 L286.95,194.99 L287.20,194.97 L287.45,194.95 L287.70,194.93 L287.95,194.92 L288.20,194.90 L288.45,194.88 L288.70,194.86 L288.95,194.84 L289.20,194.82 L289.45,194.80 L289.70,194.78 L289.95,194.76 L290.20,194.74 L290.45,194.72 L290.70,194.70 L290.95,194.68 L291.20,194.65 L291.45,194.63 L291.70,194.61 L291.95,194.59 L292.20,194.56 L292.45,194.54 L292.70,194.52 L292.95,194.49 L293.20,194.46 L293.45,194.44 L293.70,194.41 L293.95,194.38 L294.20,194.36 L294.45,194.33 L294.70,194.30 L294.95,194.27 L295.20,194.23 L295.45,194.20 L295.70,194.17 L295.95,194.13 L296.20,194.09 L296.45,194.05 L296.70,194.01 L296.95,193.97 L297.20,193.92 L297.45,193.88 L297.70,193.82 L297.95,193.77 L298.20,193.71 L298.45,193.65 L298.70,193.58 L298.95,193.51 L299.20,193.43 L299.45,193.34 L299.70,193.25 L299.95,193.15 L300.20,193.07 L300.45,192.98 L300.70,192.88 L300.95,192.77 L301.20,192.65 L301.45,192.51 L301.70,192.36 L301.95,192.19 L302.20,192.00 L302.45,191.79 L302.70,191.56 L302.95,191.31 L303.20,191.03 L303.45,190.72 L303.70,190.37 L303.95,189.99 L304.20,189.57 L304.45,189.09 L304.70,188.56 L304.95,187.97 L305.20,187.29 L305.45,186.51 L305.70,185.58 L305.95,184.37 L306.20,182.57 L306.45,179.40 L306.70,173.08 L306.95,160.13 L307.20,134.61 L307.45,87.95 L307.70,10.59 L307.95,-19.60 L308.20,-19.60 L308.45,-19.60 L308.70,-19.60 L308.95,-19.60 L309.20,-19.60 L309.45,-19.60 L309.70,-19.60 L309.95,-19.60 L310.20,-19.60 L310.45,-19.60 L310.70,10.78 L310.95,88.18 L311.20,134.87 L311.45,160.43 L311.70,173.40 L311.95,179.75 L312.20,182.97 L312.45,184.80 L312.70,186.03 L312.95,187.00 L313.20,187.81 L313.45,188.52 L313.70,189.15 L313.95,189.71 L314.20,190.22 L314.45,190.68 L314.70,191.09 L314.95,191.47 L315.20,191.81 L315.45,192.12 L315.70,192.41 L315.95,192.67 L316.20,192.91 L316.45,193.13 L316.70,193.33 L316.95,193.52 L317.20,193.69 L317.45,193.84 L317.70,193.99 L317.95,194.12 L318.20,194.24 L318.45,194.35 L318.70,194.45 L318.95,194.55 L319.20,194.63 L319.45,194.72 L319.70,194.79 L319.95,194.86 L320.20,194.92 L320.45,194.98 L320.70,195.03 L320.95,195.07 L321.20,195.12 L321.45,195.16 L321.70,195.20 L321.95,195.24 L322.20,195.27 L322.45,195.30 L322.70,195.34 L322.95,195.37 L323.20,195.40 L323.45,195.42 L323.70,195.45 L323.95,195.48 L324.20,195.50 L324.45,195.52 L324.70,195.55 L324.95,195.57 L325.20,195.59 L325.45,195.61 L325.70,195.63 L325.95,195.65 L326.20,195.67 L326.45,195.69 L326.70,195.71 L326.95,195.73 L327.20,195.75 L327.45,195.76 L327.70,195.78 L327.95,195.80 L328.20,195.82 L328.45,195.83 L328.70,195.85 L328.95,195.86 L329.20,195.88 L329.45,195.89 L329.70,195.91 L329.95,195.92 L330.20,195.94" fill="none" stroke="#c6d856" stroke-width="1.05" stroke-linejoin="round"/>
<path d="M54.45,176.92 L54.70,176.90 L54.95,176.88 L55.20,176.85 L55.45,176.83 L55.70,176.80 L55.95,176.78 L56.20,176.76 L56.45,176.73 L56.70,176.71 L56.95,176.68 L57.20,176.66 L57.45,176.63 L57.70,176.61 L57.95,176.58 L58.20,176.56 L58.45,176.53 L58.70,176.51 L58.95,176.48 L59.20,176.46 L59.45,176.43 L59.70,176.41 L59.95,176.38 L60.20,176.35 L60.45,176.33 L60.70,176.30 L60.95,176.27 L61.20,176.24 L61.45,176.22 L61.70,176.19 L61.95,176.16 L62.20,176.13 L62.45,176.10 L62.70,176.07 L62.95,176.03 L63.20,176.00 L63.45,175.97 L63.70,175.93 L63.95,175.89 L64.20,175.85 L64.45,175.81 L64.70,175.77 L64.95,175.72 L65.20,175.66 L65.45,175.60 L65.70,175.52 L65.95,175.42 L66.20,175.27 L66.45,175.04 L66.70,174.67 L66.95,174.08 L67.20,173.17 L67.45,171.81 L67.70,169.87 L67.95,167.26 L68.20,163.94 L68.45,160.00 L68.70,155.65 L68.95,151.24 L69.20,147.27 L69.45,144.25 L69.70,142.68 L69.95,142.83 L70.20,144.68 L70.45,147.88 L70.70,151.93 L70.95,156.31 L71.20,160.56 L71.45,164.35 L71.70,167.48 L71.95,169.90 L72.20,171.66 L72.45,172.87 L72.70,173.66 L72.95,174.14 L73.20,174.43 L73.45,174.59 L73.70,174.68 L73.95,174.72 L74.20,174.74 L74.45,174.73 L74.70,174.71 L74.95,174.67 L75.20,174.61 L75.45,174.50 L75.70,174.35 L75.95,174.14 L76.20,173.85 L76.45,173.46 L76.70,172.98 L76.95,172.41 L77.20,171.75 L77.45,171.05 L77.70,170.34 L77.95,169.69 L78.20,169.15 L78.45,168.79 L78.70,168.65 L78.95,168.75 L79.20,169.08 L79.45,169.58 L79.70,170.20 L79.95,170.87 L80.20,171.54 L80.45,172.16 L80.70,172.70 L80.95,173.14 L81.20,173.49 L81.45,173.75 L81.70,173.94 L81.95,174.06 L82.20,174.14 L82.45,174.18 L82.70,174.20 L82.95,174.21 L83.20,174.20 L83.45,174.19 L83.70,174.18 L83.95,174.16 L84.20,174.15 L84.45,174.13 L84.70,174.11 L84.95,174.09 L85.20,174.07 L85.45,174.05 L85.70,174.03 L85.95,174.01 L86.20,173.99 L86.45,173.97 L86.70,173.95 L86.95,173.93 L87.20,173.91 L87.45,173.89 L87.70,173.87 L87.95,173.85 L88.20,173.82 L88.45,173.80 L88.70,173.78 L88.95,173.76 L89.20,173.74 L89.45,173.71 L89.70,173.69 L89.95,173.67 L90.20,173.65 L90.45,173.63 L90.70,173.60 L90.95,173.58 L91.20,173.56 L91.45,173.54 L91.70,173.51 L91.95,173.49 L92.20,173.47 L92.45,173.45 L92.70,173.42 L92.95,173.40 L93.20,173.38 L93.45,173.35 L93.70,173.33 L93.95,173.31 L94.20,173.29 L94.45,173.26 L94.70,173.24 L94.95,173.22 L95.20,173.19 L95.45,173.17 L95.70,173.15 L95.95,173.12 L96.20,173.10 L96.45,173.08 L96.70,173.05 L96.95,173.03 L97.20,173.01 L97.45,172.98 L97.70,172.96 L97.95,172.94 L98.20,172.91 L98.45,172.89 L98.70,172.86 L98.95,172.84 L99.20,172.82 L99.45,172.79 L99.70,172.77 L99.95,172.74 L100.20,172.73 L100.45,172.72 L100.70,172.70 L100.95,172.69 L101.20,172.68 L101.45,172.67 L101.70,172.65 L101.95,172.64 L102.20,172.63 L102.45,172.61 L102.70,172.60 L102.95,172.59 L103.20,172.57 L103.45,172.56 L103.70,172.54 L103.95,172.53 L104.20,172.51 L104.45,172.49 L104.70,172.48 L104.95,172.46 L105.20,172.44 L105.45,172.42 L105.70,172.39 L105.95,172.37 L106.20,172.35 L106.45,172.32 L106.70,172.29 L106.95,172.25 L107.20,172.21 L107.45,172.16 L107.70,172.09 L107.95,171.98 L108.20,171.81 L108.45,171.54 L108.70,171.11 L108.95,170.43 L109.20,169.40 L109.45,167.92 L109.70,165.90 L109.95,163.30 L110.20,160.16 L110.45,156.64 L110.70,153.01 L110.95,149.65 L111.20,146.97 L111.45,145.40 L111.70,145.21 L111.95,146.43 L112.20,148.81 L112.45,151.98 L112.70,155.48 L112.95,158.92 L113.20,162.01 L113.45,164.57 L113.70,166.53 L113.95,167.89 L114.20,168.74 L114.45,169.16 L114.70,169.24 L114.95,169.07 L115.20,168.67 L115.45,168.10 L115.70,167.37 L115.95,166.50 L116.20,165.51 L116.45,164.44 L116.70,163.31 L116.95,162.18 L117.20,161.09 L117.45,160.11 L117.70,159.27 L117.95,158.59 L118.20,158.08 L118.45,157.70 L118.70,157.40 L118.95,157.09 L119.20,156.64 L119.45,155.81 L119.70,154.21 L119.95,151.11 L120.20,145.28 L120.45,134.74 L120.70,116.55 L120.95,86.71 L121.20,40.40 L121.45,-19.60 L121.70,-19.60 L121.95,-19.60 L122.20,-19.60 L122.45,-19.60 L122.70,-19.60 L122.95,-19.60 L123.20,-19.60 L123.45,-19.60 L123.70,-19.60 L123.95,-19.60 L124.20,-19.60 L124.45,-19.60 L124.70,-19.60 L124.95,-19.60 L125.20,-19.60 L125.45,-19.60 L125.70,-19.60 L125.95,28.84 L126.20,79.19 L126.45,112.08 L126.70,132.49 L126.95,144.61 L127.20,151.59 L127.45,155.61 L127.70,158.00 L127.95,159.55 L128.20,160.70 L128.45,161.64 L128.70,162.47 L128.95,163.25 L129.20,163.97 L129.45,164.65 L129.70,165.27 L129.95,165.84 L130.20,166.35 L130.45,166.78 L130.70,167.13 L130.95,167.38 L131.20,167.52 L131.45,167.55 L131.70,167.45 L131.95,167.25 L132.20,166.96 L132.45,166.61 L132.70,166.25 L132.95,165.93 L133.20,165.70 L133.45,165.61 L133.70,165.70 L133.95,165.97 L134.20,166.40 L134.45,166.94 L134.70,167.55 L134.95,168.16 L135.20,168.75 L135.45,169.28 L135.70,169.72 L135.95,170.06 L136.20,170.31 L136.45,170.45 L136.70,170.50 L136.95,170.44 L137.20,170.26 L137.45,169.95 L137.70,169.48 L137.95,168.82 L138.20,167.97 L138.45,166.93 L138.70,165.70 L138.95,164.35 L139.20,162.96 L139.45,161.62 L139.70,160.46 L139.95,159.62 L140.20,159.18 L140.45,159.22 L140.70,159.73 L140.95,160.64 L141.20,161.83 L141.45,163.17 L141.70,164.55 L141.95,165.87 L142.20,167.05 L142.45,168.06 L142.70,168.87 L142.95,169.49 L143.20,169.95 L143.45,170.27 L143.70,170.49 L143.95,170.63 L144.20,170.72 L144.45,170.78 L144.70,170.81 L144.95,170.83 L145.20,170.85 L145.45,170.87 L145.70,170.88 L145.95,170.90 L146.20,170.91 L146.45,170.92 L146.70,170.93 L146.95,170.94 L147.20,170.95 L147.45,170.96 L147.70,170.97 L147.95,170.97 L148.20,170.98 L148.45,170.99 L148.70,171.00 L148.95,171.00 L149.20,171.01 L149.45,171.02 L149.70,171.02 L149.95,171.03 L150.20,171.03 L150.45,171.04 L150.70,171.04 L150.95,171.05 L151.20,171.05 L151.45,171.06 L151.70,171.07 L151.95,171.07 L152.20,171.08 L152.45,171.08 L152.70,171.08 L152.95,171.09 L153.20,171.09 L153.45,171.10 L153.70,171.10 L153.95,171.11 L154.20,171.11 L154.45,171.11 L154.70,171.12 L154.95,171.12 L155.20,171.12 L155.45,171.12 L155.70,171.13 L155.95,171.13 L156.20,171.12 L156.45,171.12 L156.70,171.12 L156.95,171.12 L157.20,171.11 L157.45,171.10 L157.70,171.09 L157.95,171.07 L158.20,171.06 L158.45,171.03 L158.70,171.01 L158.95,170.98 L159.20,170.94 L159.45,170.90 L159.70,170.85 L159.95,170.79 L160.20,170.72 L160.45,170.65 L160.70,170.57 L160.95,170.47 L161.20,170.36 L161.45,170.25 L161.70,170.11 L161.95,169.97 L162.20,169.81 L162.45,169.64 L162.70,169.46 L162.95,169.26 L163.20,169.06 L163.45,168.83 L163.70,168.60 L163.95,168.36 L164.20,168.12 L164.45,167.88 L164.70,167.59 L164.95,167.20 L165.20,166.56 L165.45,165.32 L165.70,162.72 L165.95,157.31 L166.20,146.53 L166.45,126.29 L166.70,90.81 L166.95,33.00 L167.20,-19.60 L167.45,-19.60 L167.70,-19.60 L167.95,-19.60 L168.20,-19.60 L168.45,-19.60 L168.70,-19.60 L168.95,-19.60 L169.20,-19.60 L169.45,-19.60 L169.70,-19.60 L169.95,-19.60 L170.20,-19.60 L170.45,-19.60 L170.70,-19.60 L170.95,2.56 L171.20,71.41 L171.45,115.01 L171.70,140.63 L171.95,154.68 L172.20,161.92 L172.45,165.49 L172.70,167.22 L172.95,168.12 L173.20,168.65 L173.45,169.04 L173.70,169.37 L173.95,169.67 L174.20,169.96 L174.45,170.24 L174.70,170.51 L174.95,170.76 L175.20,171.00 L175.45,171.23 L175.70,171.44 L175.95,171.65 L176.20,171.83 L176.45,172.01 L176.70,172.17 L176.95,172.32 L177.20,172.46 L177.45,172.59 L177.70,172.71 L177.95,172.82 L178.20,172.92 L178.45,173.01 L178.70,173.10 L178.95,173.18 L179.20,173.25 L179.45,173.32 L179.70,173.38 L179.95,173.44 L180.20,173.50 L180.45,173.55 L180.70,173.60 L180.95,173.64 L181.20,173.69 L181.45,173.73 L181.70,173.78 L181.95,173.82 L182.20,173.86 L182.45,173.90 L182.70,173.93 L182.95,173.97 L183.20,174.01 L183.45,174.05 L183.70,174.08 L183.95,174.12 L184.20,174.16 L184.45,174.19 L184.70,174.23 L184.95,174.26 L185.20,174.30 L185.45,174.33 L185.70,174.37 L185.95,174.41 L186.20,174.44 L186.45,174.48 L186.70,174.51 L186.95,174.55 L187.20,174.58 L187.45,174.62 L187.70,174.65 L187.95,174.69 L188.20,174.72 L188.45,174.76 L188.70,174.79 L188.95,174.83 L189.20,174.86 L189.45,174.90 L189.70,174.93 L189.95,174.97 L190.20,175.00 L190.45,175.04 L190.70,175.07 L190.95,175.11 L191.20,175.14 L191.45,175.18 L191.70,175.21 L191.95,175.24 L192.20,175.28 L192.45,175.31 L192.70,175.35 L192.95,175.38 L193.20,175.41 L193.45,175.44 L193.70,175.48 L193.95,175.51 L194.20,175.54 L194.45,175.57 L194.70,175.60 L194.95,175.63 L195.20,175.66 L195.45,175.68 L195.70,175.70 L195.95,175.70 L196.20,175.69 L196.45,175.64 L196.70,175.54 L196.95,175.36 L197.20,175.07 L197.45,174.66 L197.70,174.12 L197.95,173.46 L198.20,172.70 L198.45,171.90 L198.70,171.15 L198.95,170.53 L199.20,170.14 L199.45,170.05 L199.70,170.28 L199.95,170.79 L200.20,171.48 L200.45,172.28 L200.70,173.08 L200.95,173.82 L201.20,174.45 L201.45,174.95 L201.70,175.33 L201.95,175.59 L202.20,175.78 L202.45,175.89 L202.70,175.97 L202.95,176.02 L203.20,176.05 L203.45,176.07 L203.70,176.08 L203.95,176.09 L204.20,176.10 L204.45,176.11 L204.70,176.11 L204.95,176.11 L205.20,176.10 L205.45,176.08 L205.70,176.05 L205.95,175.98 L206.20,175.86 L206.45,175.68 L206.70,175.41 L206.95,175.04 L207.20,174.54 L207.45,173.94 L207.70,173.24 L207.95,172.52 L208.20,171.83 L208.45,171.26 L208.70,170.91 L208.95,170.83 L209.20,171.04 L209.45,171.50 L209.70,172.14 L209.95,172.88 L210.20,173.61 L210.45,174.29 L210.70,174.87 L210.95,175.33 L211.20,175.68 L211.45,175.93 L211.70,176.10 L211.95,176.21 L212.20,176.28 L212.45,176.32 L212.70,176.36 L212.95,176.38 L213.20,176.39 L213.45,176.41 L213.70,176.42 L213.95,176.43 L214.20,176.45 L214.45,176.47 L214.70,176.48 L214.95,176.50 L215.20,176.52 L215.45,176.53 L215.70,176.55 L215.95,176.56 L216.20,176.58 L216.45,176.60 L216.70,176.61 L216.95,176.63 L217.20,176.64 L217.45,176.65 L217.70,176.67 L217.95,176.68 L218.20,176.70 L218.45,176.71 L218.70,176.73 L218.95,176.74 L219.20,176.75 L219.45,176.77 L219.70,176.78 L219.95,176.79 L220.20,176.80 L220.45,176.80 L220.70,176.81 L220.95,176.81 L221.20,176.80 L221.45,176.79 L221.70,176.78 L221.95,176.76 L222.20,176.73 L222.45,176.69 L222.70,176.65 L222.95,176.60 L223.20,176.54 L223.45,176.49 L223.70,176.43 L223.95,176.38 L224.20,176.34 L224.45,176.31 L224.70,176.29 L224.95,176.30 L225.20,176.32 L225.45,176.35 L225.70,176.41 L225.95,176.47 L226.20,176.55 L226.45,176.63 L226.70,176.71 L226.95,176.79 L227.20,176.87 L227.45,176.95 L227.70,177.02 L227.95,177.08 L228.20,177.13 L228.45,177.18 L228.70,177.22 L228.95,177.25 L229.20,177.28 L229.45,177.30 L229.70,177.33 L229.95,177.35 L230.20,177.36 L230.45,177.38 L230.70,177.39 L230.95,177.41 L231.20,177.42 L231.45,177.42 L231.70,177.43 L231.95,177.43 L232.20,177.42 L232.45,177.39 L232.70,177.35 L232.95,177.29 L233.20,177.20 L233.45,177.07 L233.70,176.92 L233.95,176.74 L234.20,176.53 L234.45,176.31 L234.70,176.10 L234.95,175.91 L235.20,175.77 L235.45,175.70 L235.70,175.70 L235.95,175.78 L236.20,175.94 L236.45,176.14 L236.70,176.37 L236.95,176.61 L237.20,176.85 L237.45,177.06 L237.70,177.25 L237.95,177.40 L238.20,177.52 L238.45,177.62 L238.70,177.69 L238.95,177.74 L239.20,177.78 L239.45,177.80 L239.70,177.82 L239.95,177.84 L240.20,177.85 L240.45,177.86 L240.70,177.87 L240.95,177.87 L241.20,177.86 L241.45,177.85 L241.70,177.81 L241.95,177.76 L242.20,177.68 L242.45,177.55 L242.70,177.38 L242.95,177.15 L243.20,176.87 L243.45,176.54 L243.70,176.16 L243.95,175.77 L244.20,175.38 L244.45,175.05 L244.70,174.79 L244.95,174.65 L245.20,174.65 L245.45,174.79 L245.70,175.04 L245.95,175.39 L246.20,175.79 L246.45,176.21 L246.70,176.61 L246.95,176.98 L247.20,177.30 L247.45,177.56 L247.70,177.77 L247.95,177.93 L248.20,178.04 L248.45,178.12 L248.70,178.18 L248.95,178.23 L249.20,178.26 L249.45,178.28 L249.70,178.30 L249.95,178.32 L250.20,178.31 L250.45,178.29 L250.70,178.27 L250.95,178.25 L251.20,178.23 L251.45,178.21 L251.70,178.19 L251.95,178.17 L252.20,178.15 L252.45,178.13 L252.70,178.11 L252.95,178.09 L253.20,178.07 L253.45,178.05 L253.70,178.03 L253.95,178.01 L254.20,177.98 L254.45,177.96 L254.70,177.94 L254.95,177.92 L255.20,177.90 L255.45,177.88 L255.70,177.86 L255.95,177.83 L256.20,177.81 L256.45,177.79 L256.70,177.77 L256.95,177.75 L257.20,177.72 L257.45,177.70 L257.70,177.68 L257.95,177.66 L258.20,177.64 L258.45,177.62 L258.70,177.59 L258.95,177.57 L259.20,177.55 L259.45,177.53 L259.70,177.50 L259.95,177.48 L260.20,177.46 L260.45,177.44 L260.70,177.42 L260.95,177.39 L261.20,177.37 L261.45,177.35 L261.70,177.33 L261.95,177.30 L262.20,177.28 L262.45,177.26 L262.70,177.23 L262.95,177.21 L263.20,177.19 L263.45,177.16 L263.70,177.14 L263.95,177.12 L264.20,177.09 L264.45,177.07 L264.70,177.05 L264.95,177.02 L265.20,177.00 L265.45,176.97 L265.70,176.94 L265.95,176.92 L266.20,176.89 L266.45,176.86 L266.70,176.82 L266.95,176.78 L267.20,176.72 L267.45,176.64 L267.70,176.52 L267.95,176.36 L268.20,176.12 L268.45,175.78 L268.70,175.35 L268.95,174.81 L269.20,174.17 L269.45,173.49 L269.70,172.81 L269.95,172.21 L270.20,171.77 L270.45,171.57 L270.70,171.63 L270.95,171.93 L271.20,172.43 L271.45,173.04 L271.70,173.69 L271.95,174.30 L272.20,174.85 L272.45,175.30 L272.70,175.64 L272.95,175.88 L273.20,176.04 L273.45,176.14 L273.70,176.20 L273.95,176.24 L274.20,176.25 L274.45,176.26 L274.70,176.26 L274.95,176.26 L275.20,176.25 L275.45,176.25 L275.70,176.24 L275.95,176.23 L276.20,176.22 L276.45,176.22 L276.70,176.21 L276.95,176.20 L277.20,176.19 L277.45,176.18 L277.70,176.17 L277.95,176.16 L278.20,176.15 L278.45,176.14 L278.70,176.13 L278.95,176.12 L279.20,176.11 L279.45,176.10 L279.70,176.09 L279.95,176.08 L280.20,176.07 L280.45,176.06 L280.70,176.05 L280.95,176.04 L281.20,176.03 L281.45,176.02 L281.70,176.01 L281.95,176.00 L282.20,175.99 L282.45,175.97 L282.70,175.96 L282.95,175.95 L283.20,175.94 L283.45,175.93 L283.70,175.92 L283.95,175.91 L284.20,175.89 L284.45,175.88 L284.70,175.87 L284.95,175.86 L285.20,175.84 L285.45,175.83 L285.70,175.82 L285.95,175.81 L286.20,175.79 L286.45,175.78 L286.70,175.77 L286.95,175.75 L287.20,175.74 L287.45,175.73 L287.70,175.71 L287.95,175.70 L288.20,175.68 L288.45,175.67 L288.70,175.66 L288.95,175.64 L289.20,175.63 L289.45,175.61 L289.70,175.60 L289.95,175.58 L290.20,175.56 L290.45,175.55 L290.70,175.53 L290.95,175.51 L291.20,175.50 L291.45,175.48 L291.70,175.46 L291.95,175.44 L292.20,175.42 L292.45,175.40 L292.70,175.38 L292.95,175.36 L293.20,175.34 L293.45,175.32 L293.70,175.30 L293.95,175.28 L294.20,175.25 L294.45,175.23 L294.70,175.20 L294.95,175.17 L295.20,175.15 L295.45,175.12 L295.70,175.09 L295.95,175.06 L296.20,175.02 L296.45,174.99 L296.70,174.95 L296.95,174.91 L297.20,174.87 L297.45,174.83 L297.70,174.78 L297.95,174.73 L298.20,174.68 L298.45,174.62 L298.70,174.55 L298.95,174.49 L299.20,174.41 L299.45,174.33 L299.70,174.24 L299.95,174.15 L300.20,174.05 L300.45,173.95 L300.70,173.84 L300.95,173.72 L301.20,173.58 L301.45,173.43 L301.70,173.27 L301.95,173.09 L302.20,172.89 L302.45,172.67 L302.70,172.43 L302.95,172.16 L303.20,171.87 L303.45,171.54 L303.70,171.19 L303.95,170.79 L304.20,170.35 L304.45,169.87 L304.70,169.32 L304.95,168.71 L305.20,168.02 L305.45,167.23 L305.70,166.29 L305.95,165.07 L306.20,163.26 L306.45,160.07 L306.70,153.73 L306.95,140.78 L307.20,115.24 L307.45,68.57 L307.70,-8.81 L307.95,-19.60 L308.20,-19.60 L308.45,-19.60 L308.70,-19.60 L308.95,-19.60 L309.20,-19.60 L309.45,-19.60 L309.70,-19.60 L309.95,-19.60 L310.20,-19.60 L310.45,-19.60 L310.70,-8.77 L310.95,68.62 L311.20,115.29 L311.45,140.84 L311.70,153.80 L311.95,160.14 L312.20,163.34 L312.45,165.16 L312.70,166.39 L312.95,167.34 L313.20,168.14 L313.45,168.83 L313.70,169.45 L313.95,170.00 L314.20,170.49 L314.45,170.94 L314.70,171.34 L314.95,171.70 L315.20,172.03 L315.45,172.33 L315.70,172.61 L315.95,172.86 L316.20,173.08 L316.45,173.29 L316.70,173.48 L316.95,173.65 L317.20,173.80 L317.45,173.95 L317.70,174.08 L317.95,174.20 L318.20,174.30 L318.45,174.40 L318.70,174.49 L318.95,174.57 L319.20,174.65 L319.45,174.71 L319.70,174.78 L319.95,174.83 L320.20,174.88 L320.45,174.93 L320.70,174.97 L320.95,175.01 L321.20,175.04 L321.45,175.06 L321.70,175.08 L321.95,175.09 L322.20,175.09 L322.45,175.09 L322.70,175.08 L322.95,175.07 L323.20,175.04 L323.45,174.99 L323.70,174.93 L323.95,174.86 L324.20,174.76 L324.45,174.65 L324.70,174.52 L324.95,174.37 L325.20,174.21 L325.45,174.04 L325.70,173.87 L325.95,173.71 L326.20,173.56 L326.45,173.44 L326.70,173.35 L326.95,173.31 L327.20,173.30 L327.45,173.34 L327.70,173.43 L327.95,173.55 L328.20,173.69 L328.45,173.85 L328.70,174.02 L328.95,174.20 L329.20,174.36 L329.45,174.52 L329.70,174.66 L329.95,174.78 L330.20,174.89" fill="none" stroke="#4aab98" stroke-width="1.05" stroke-linejoin="round"/>
<path d="M54.45,155.25 L54.70,155.24 L54.95,155.23 L55.20,155.22 L55.45,155.21 L55.70,155.20 L55.95,155.19 L56.20,155.18 L56.45,155.17 L56.70,155.16 L56.95,155.15 L57.20,155.14 L57.45,155.13 L57.70,155.12 L57.95,155.11 L58.20,155.10 L58.45,155.09 L58.70,155.08 L58.95,155.07 L59.20,155.06 L59.45,155.05 L59.70,155.03 L59.95,155.02 L60.20,155.01 L60.45,155.00 L60.70,154.99 L60.95,154.97 L61.20,154.96 L61.45,154.95 L61.70,154.94 L61.95,154.92 L62.20,154.91 L62.45,154.89 L62.70,154.88 L62.95,154.86 L63.20,154.85 L63.45,154.83 L63.70,154.82 L63.95,154.80 L64.20,154.78 L64.45,154.76 L64.70,154.74 L64.95,154.72 L65.20,154.69 L65.45,154.66 L65.70,154.63 L65.95,154.58 L66.20,154.52 L66.45,154.44 L66.70,154.32 L66.95,154.14 L67.20,153.86 L67.45,153.45 L67.70,152.86 L67.95,152.03 L68.20,150.92 L68.45,149.47 L68.70,147.69 L68.95,145.60 L69.20,143.27 L69.45,140.82 L69.70,138.45 L69.95,136.34 L70.20,134.73 L70.45,133.82 L70.70,133.73 L70.95,134.46 L71.20,135.92 L71.45,137.93 L71.70,140.25 L71.95,142.67 L72.20,145.02 L72.45,147.14 L72.70,148.97 L72.95,150.46 L73.20,151.62 L73.45,152.48 L73.70,153.09 L73.95,153.51 L74.20,153.79 L74.45,153.96 L74.70,154.07 L74.95,154.14 L75.20,154.17 L75.45,154.19 L75.70,154.20 L75.95,154.20 L76.20,154.18 L76.45,154.15 L76.70,154.10 L76.95,154.02 L77.20,153.90 L77.45,153.72 L77.70,153.46 L77.95,153.11 L78.20,152.65 L78.45,152.08 L78.70,151.40 L78.95,150.63 L79.20,149.82 L79.45,149.02 L79.70,148.29 L79.95,147.71 L80.20,147.35 L80.45,147.26 L80.70,147.45 L80.95,147.89 L81.20,148.52 L81.45,149.28 L81.70,150.08 L81.95,150.87 L82.20,151.59 L82.45,152.22 L82.70,152.73 L82.95,153.14 L83.20,153.44 L83.45,153.65 L83.70,153.80 L83.95,153.90 L84.20,153.96 L84.45,153.99 L84.70,154.01 L84.95,154.03 L85.20,154.03 L85.45,154.03 L85.70,154.03 L85.95,154.03 L86.20,154.02 L86.45,154.02 L86.70,154.01 L86.95,154.01 L87.20,154.00 L87.45,154.00 L87.70,153.99 L87.95,153.98 L88.20,153.98 L88.45,153.97 L88.70,153.96 L88.95,153.95 L89.20,153.95 L89.45,153.94 L89.70,153.93 L89.95,153.92 L90.20,153.91 L90.45,153.91 L90.70,153.90 L90.95,153.89 L91.20,153.88 L91.45,153.87 L91.70,153.86 L91.95,153.85 L92.20,153.85 L92.45,153.84 L92.70,153.83 L92.95,153.82 L93.20,153.81 L93.45,153.80 L93.70,153.79 L93.95,153.78 L94.20,153.77 L94.45,153.77 L94.70,153.76 L94.95,153.75 L95.20,153.74 L95.45,153.73 L95.70,153.72 L95.95,153.71 L96.20,153.70 L96.45,153.69 L96.70,153.68 L96.95,153.67 L97.20,153.66 L97.45,153.65 L97.70,153.64 L97.95,153.63 L98.20,153.62 L98.45,153.61 L98.70,153.60 L98.95,153.59 L99.20,153.58 L99.45,153.57 L99.70,153.56 L99.95,153.55 L100.20,153.55 L100.45,153.54 L100.70,153.54 L100.95,153.53 L101.20,153.53 L101.45,153.52 L101.70,153.51 L101.95,153.51 L102.20,153.50 L102.45,153.50 L102.70,153.49 L102.95,153.48 L103.20,153.48 L103.45,153.47 L103.70,153.46 L103.95,153.45 L104.20,153.45 L104.45,153.44 L104.70,153.43 L104.95,153.42 L105.20,153.41 L105.45,153.40 L105.70,153.38 L105.95,153.37 L106.20,153.36 L106.45,153.34 L106.70,153.32 L106.95,153.30 L107.20,153.27 L107.45,153.23 L107.70,153.17 L107.95,153.08 L108.20,152.95 L108.45,152.73 L108.70,152.40 L108.95,151.91 L109.20,151.22 L109.45,150.27 L109.70,149.06 L109.95,147.57 L110.20,145.84 L110.45,143.98 L110.70,142.12 L110.95,140.43 L111.20,139.11 L111.45,138.34 L111.70,138.23 L111.95,138.80 L112.20,139.93 L112.45,141.47 L112.70,143.22 L112.95,144.98 L113.20,146.62 L113.45,148.01 L113.70,149.12 L113.95,149.91 L114.20,150.40 L114.45,150.62 L114.70,150.60 L114.95,150.37 L115.20,149.96 L115.45,149.38 L115.70,148.65 L115.95,147.78 L116.20,146.79 L116.45,145.71 L116.70,144.58 L116.95,143.45 L117.20,142.36 L117.45,141.38 L117.70,140.54 L117.95,139.87 L118.20,139.36 L118.45,138.99 L118.70,138.69 L118.95,138.38 L119.20,137.93 L119.45,137.11 L119.70,135.51 L119.95,132.41 L120.20,126.59 L120.45,116.06 L120.70,97.87 L120.95,68.04 L121.20,21.73 L121.45,-19.60 L121.70,-19.60 L121.95,-19.60 L122.20,-19.60 L122.45,-19.60 L122.70,-19.60 L122.95,-19.60 L123.20,-19.60 L123.45,-19.60 L123.70,-19.60 L123.95,-19.60 L124.20,-19.60 L124.45,-19.60 L124.70,-19.60 L124.95,-19.60 L125.20,-19.60 L125.45,-19.60 L125.70,-19.60 L125.95,10.28 L126.20,60.63 L126.45,93.53 L126.70,113.95 L126.95,126.07 L127.20,133.07 L127.45,137.08 L127.70,139.48 L127.95,141.05 L128.20,142.20 L128.45,143.15 L128.70,143.99 L128.95,144.78 L129.20,145.52 L129.45,146.21 L129.70,146.87 L129.95,147.48 L130.20,148.05 L130.45,148.58 L130.70,149.06 L130.95,149.50 L131.20,149.89 L131.45,150.22 L131.70,150.50 L131.95,150.72 L132.20,150.87 L132.45,150.94 L132.70,150.91 L132.95,150.78 L133.20,150.55 L133.45,150.22 L133.70,149.81 L133.95,149.33 L134.20,148.84 L134.45,148.38 L134.70,148.00 L134.95,147.76 L135.20,147.70 L135.45,147.83 L135.70,148.14 L135.95,148.58 L136.20,149.12 L136.45,149.70 L136.70,150.26 L136.95,150.78 L137.20,151.21 L137.45,151.54 L137.70,151.76 L137.95,151.85 L138.20,151.79 L138.45,151.58 L138.70,151.18 L138.95,150.57 L139.20,149.72 L139.45,148.62 L139.70,147.28 L139.95,145.72 L140.20,144.02 L140.45,142.28 L140.70,140.65 L140.95,139.28 L141.20,138.32 L141.45,137.90 L141.70,138.08 L141.95,138.83 L142.20,140.06 L142.45,141.60 L142.70,143.31 L142.95,145.04 L143.20,146.67 L143.45,148.11 L143.70,149.33 L143.95,150.30 L144.20,151.04 L144.45,151.59 L144.70,151.97 L144.95,152.23 L145.20,152.40 L145.45,152.51 L145.70,152.58 L145.95,152.63 L146.20,152.66 L146.45,152.68 L146.70,152.69 L146.95,152.70 L147.20,152.71 L147.45,152.71 L147.70,152.72 L147.95,152.72 L148.20,152.72 L148.45,152.73 L148.70,152.73 L148.95,152.73 L149.20,152.73 L149.45,152.73 L149.70,152.73 L149.95,152.73 L150.20,152.73 L150.45,152.73 L150.70,152.74 L150.95,152.74 L151.20,152.74 L151.45,152.74 L151.70,152.75 L151.95,152.75 L152.20,152.75 L152.45,152.75 L152.70,152.75 L152.95,152.75 L153.20,152.76 L153.45,152.76 L153.70,152.76 L153.95,152.76 L154.20,152.76 L154.45,152.76 L154.70,152.76 L154.95,152.76 L155.20,152.76 L155.45,152.75 L155.70,152.75 L155.95,152.75 L156.20,152.74 L156.45,152.74 L156.70,152.73 L156.95,152.72 L157.20,152.71 L157.45,152.70 L157.70,152.68 L157.95,152.67 L158.20,152.64 L158.45,152.62 L158.70,152.59 L158.95,152.55 L159.20,152.51 L159.45,152.47 L159.70,152.41 L159.95,152.35 L160.20,152.28 L160.45,152.20 L160.70,152.12 L160.95,152.02 L161.20,151.91 L161.45,151.78 L161.70,151.65 L161.95,151.50 L162.20,151.34 L162.45,151.17 L162.70,150.98 L162.95,150.78 L163.20,150.57 L163.45,150.34 L163.70,150.10 L163.95,149.85 L164.20,149.61 L164.45,149.36 L164.70,149.06 L164.95,148.67 L165.20,148.02 L165.45,146.76 L165.70,144.15 L165.95,138.74 L166.20,127.95 L166.45,107.70 L166.70,72.21 L166.95,14.40 L167.20,-19.60 L167.45,-19.60 L167.70,-19.60 L167.95,-19.60 L168.20,-19.60 L168.45,-19.60 L168.70,-19.60 L168.95,-19.60 L169.20,-19.60 L169.45,-19.60 L169.70,-19.60 L169.95,-19.60 L170.20,-19.60 L170.45,-19.60 L170.70,-19.60 L170.95,-16.20 L171.20,52.65 L171.45,96.24 L171.70,121.85 L171.95,135.89 L172.20,143.12 L172.45,146.68 L172.70,148.41 L172.95,149.29 L173.20,149.82 L173.45,150.20 L173.70,150.52 L173.95,150.81 L174.20,151.09 L174.45,151.36 L174.70,151.62 L174.95,151.86 L175.20,152.09 L175.45,152.31 L175.70,152.52 L175.95,152.71 L176.20,152.89 L176.45,153.06 L176.70,153.21 L176.95,153.35 L177.20,153.48 L177.45,153.60 L177.70,153.71 L177.95,153.81 L178.20,153.90 L178.45,153.99 L178.70,154.06 L178.95,154.13 L179.20,154.20 L179.45,154.26 L179.70,154.31 L179.95,154.36 L180.20,154.41 L180.45,154.45 L180.70,154.49 L180.95,154.53 L181.20,154.57 L181.45,154.60 L181.70,154.63 L181.95,154.67 L182.20,154.70 L182.45,154.73 L182.70,154.76 L182.95,154.78 L183.20,154.81 L183.45,154.84 L183.70,154.87 L183.95,154.90 L184.20,154.92 L184.45,154.95 L184.70,154.98 L184.95,155.00 L185.20,155.03 L185.45,155.06 L185.70,155.08 L185.95,155.11 L186.20,155.14 L186.45,155.16 L186.70,155.19 L186.95,155.22 L187.20,155.24 L187.45,155.27 L187.70,155.29 L187.95,155.32 L188.20,155.35 L188.45,155.37 L188.70,155.40 L188.95,155.43 L189.20,155.45 L189.45,155.48 L189.70,155.50 L189.95,155.53 L190.20,155.56 L190.45,155.58 L190.70,155.61 L190.95,155.63 L191.20,155.66 L191.45,155.68 L191.70,155.71 L191.95,155.74 L192.20,155.76 L192.45,155.79 L192.70,155.81 L192.95,155.84 L193.20,155.86 L193.45,155.89 L193.70,155.91 L193.95,155.94 L194.20,155.96 L194.45,155.98 L194.70,156.01 L194.95,156.03 L195.20,156.05 L195.45,156.07 L195.70,156.08 L195.95,156.09 L196.20,156.08 L196.45,156.05 L196.70,155.98 L196.95,155.87 L197.20,155.68 L197.45,155.42 L197.70,155.06 L197.95,154.63 L198.20,154.13 L198.45,153.60 L198.70,153.11 L198.95,152.70 L199.20,152.45 L199.45,152.40 L199.70,152.56 L199.95,152.90 L200.20,153.37 L200.45,153.91 L200.70,154.45 L200.95,154.95 L201.20,155.38 L201.45,155.72 L201.70,155.98 L201.95,156.16 L202.20,156.29 L202.45,156.37 L202.70,156.43 L202.95,156.47 L203.20,156.50 L203.45,156.52 L203.70,156.53 L203.95,156.55 L204.20,156.56 L204.45,156.57 L204.70,156.58 L204.95,156.59 L205.20,156.59 L205.45,156.59 L205.70,156.57 L205.95,156.53 L206.20,156.47 L206.45,156.36 L206.70,156.19 L206.95,155.96 L207.20,155.66 L207.45,155.28 L207.70,154.84 L207.95,154.39 L208.20,153.96 L208.45,153.60 L208.70,153.39 L208.95,153.34 L209.20,153.48 L209.45,153.78 L209.70,154.20 L209.95,154.67 L210.20,155.15 L210.45,155.59 L210.70,155.96 L210.95,156.26 L211.20,156.49 L211.45,156.66 L211.70,156.77 L211.95,156.85 L212.20,156.90 L212.45,156.94 L212.70,156.96 L212.95,156.98 L213.20,157.00 L213.45,157.02 L213.70,157.03 L213.95,157.05 L214.20,157.05 L214.45,157.05 L214.70,157.06 L214.95,157.06 L215.20,157.06 L215.45,157.06 L215.70,157.06 L215.95,157.06 L216.20,157.06 L216.45,157.06 L216.70,157.06 L216.95,157.06 L217.20,157.06 L217.45,157.06 L217.70,157.06 L217.95,157.06 L218.20,157.06 L218.45,157.06 L218.70,157.06 L218.95,157.06 L219.20,157.06 L219.45,157.06 L219.70,157.06 L219.95,157.05 L220.20,157.05 L220.45,157.04 L220.70,157.04 L220.95,157.03 L221.20,157.01 L221.45,156.99 L221.70,156.97 L221.95,156.94 L222.20,156.89 L222.45,156.84 L222.70,156.77 L222.95,156.69 L223.20,156.60 L223.45,156.49 L223.70,156.37 L223.95,156.25 L224.20,156.12 L224.45,155.99 L224.70,155.87 L224.95,155.76 L225.20,155.67 L225.45,155.61 L225.70,155.58 L225.95,155.58 L226.20,155.62 L226.45,155.68 L226.70,155.78 L226.95,155.89 L227.20,156.01 L227.45,156.14 L227.70,156.27 L227.95,156.40 L228.20,156.51 L228.45,156.61 L228.70,156.70 L228.95,156.78 L229.20,156.84 L229.45,156.90 L229.70,156.94 L229.95,156.97 L230.20,156.99 L230.45,157.00 L230.70,157.02 L230.95,157.02 L231.20,157.03 L231.45,157.03 L231.70,157.02 L231.95,157.02 L232.20,157.00 L232.45,156.98 L232.70,156.95 L232.95,156.90 L233.20,156.84 L233.45,156.76 L233.70,156.66 L233.95,156.54 L234.20,156.41 L234.45,156.27 L234.70,156.13 L234.95,156.01 L235.20,155.94 L235.45,155.90 L235.70,155.92 L235.95,155.98 L236.20,156.08 L236.45,156.21 L236.70,156.36 L236.95,156.52 L237.20,156.67 L237.45,156.81 L237.70,156.94 L237.95,157.04 L238.20,157.12 L238.45,157.19 L238.70,157.24 L238.95,157.29 L239.20,157.32 L239.45,157.35 L239.70,157.37 L239.95,157.39 L240.20,157.41 L240.45,157.43 L240.70,157.44 L240.95,157.45 L241.20,157.46 L241.45,157.46 L241.70,157.44 L241.95,157.41 L242.20,157.36 L242.45,157.28 L242.70,157.17 L242.95,157.02 L243.20,156.83 L243.45,156.60 L243.70,156.34 L243.95,156.07 L244.20,155.81 L244.45,155.57 L244.70,155.40 L244.95,155.31 L245.20,155.32 L245.45,155.43 L245.70,155.62 L245.95,155.88 L246.20,156.18 L246.45,156.48 L246.70,156.78 L246.95,157.06 L247.20,157.29 L247.45,157.49 L247.70,157.65 L247.95,157.77 L248.20,157.86 L248.45,157.93 L248.70,157.98 L248.95,158.02 L249.20,158.06 L249.45,158.08 L249.70,158.11 L249.95,158.13 L250.20,158.13 L250.45,158.13 L250.70,158.13 L250.95,158.13 L251.20,158.12 L251.45,158.12 L251.70,158.11 L251.95,158.11 L252.20,158.11 L252.45,158.10 L252.70,158.10 L252.95,158.09 L253.20,158.09 L253.45,158.08 L253.70,158.08 L253.95,158.07 L254.20,158.07 L254.45,158.06 L254.70,158.06 L254.95,158.05 L255.20,158.05 L255.45,158.04 L255.70,158.04 L255.95,158.03 L256.20,158.03 L256.45,158.02 L256.70,158.02 L256.95,158.01 L257.20,158.01 L257.45,158.00 L257.70,158.00 L257.95,157.99 L258.20,157.99 L258.45,157.98 L258.70,157.98 L258.95,157.97 L259.20,157.97 L259.45,157.96 L259.70,157.95 L259.95,157.95 L260.20,157.94 L260.45,157.94 L260.70,157.93 L260.95,157.93 L261.20,157.92 L261.45,157.92 L261.70,157.91 L261.95,157.90 L262.20,157.90 L262.45,157.89 L262.70,157.89 L262.95,157.88 L263.20,157.87 L263.45,157.87 L263.70,157.86 L263.95,157.85 L264.20,157.85 L264.45,157.84 L264.70,157.83 L264.95,157.82 L265.20,157.82 L265.45,157.81 L265.70,157.80 L265.95,157.79 L266.20,157.77 L266.45,157.75 L266.70,157.73 L266.95,157.69 L267.20,157.64 L267.45,157.57 L267.70,157.47 L267.95,157.33 L268.20,157.15 L268.45,156.92 L268.70,156.64 L268.95,156.32 L269.20,155.97 L269.45,155.62 L269.70,155.28 L269.95,155.00 L270.20,154.80 L270.45,154.71 L270.70,154.73 L270.95,154.87 L271.20,155.10 L271.45,155.38 L271.70,155.69 L271.95,155.98 L272.20,156.24 L272.45,156.43 L272.70,156.55 L272.95,156.59 L273.20,156.56 L273.45,156.45 L273.70,156.30 L273.95,156.11 L274.20,155.92 L274.45,155.76 L274.70,155.64 L274.95,155.58 L275.20,155.61 L275.45,155.71 L275.70,155.87 L275.95,156.07 L276.20,156.30 L276.45,156.52 L276.70,156.73 L276.95,156.92 L277.20,157.08 L277.45,157.20 L277.70,157.30 L277.95,157.37 L278.20,157.41 L278.45,157.44 L278.70,157.46 L278.95,157.47 L279.20,157.47 L279.45,157.47 L279.70,157.47 L279.95,157.47 L280.20,157.46 L280.45,157.46 L280.70,157.45 L280.95,157.45 L281.20,157.43 L281.45,157.42 L281.70,157.40 L281.95,157.39 L282.20,157.37 L282.45,157.36 L282.70,157.34 L282.95,157.33 L283.20,157.31 L283.45,157.30 L283.70,157.28 L283.95,157.27 L284.20,157.25 L284.45,157.23 L284.70,157.22 L284.95,157.20 L285.20,157.18 L285.45,157.17 L285.70,157.15 L285.95,157.13 L286.20,157.11 L286.45,157.10 L286.70,157.08 L286.95,157.06 L287.20,157.04 L287.45,157.02 L287.70,157.00 L287.95,156.99 L288.20,156.97 L288.45,156.95 L288.70,156.93 L288.95,156.90 L289.20,156.88 L289.45,156.86 L289.70,156.83 L289.95,156.80 L290.20,156.77 L290.45,156.72 L290.70,156.67 L290.95,156.59 L291.20,156.50 L291.45,156.38 L291.70,156.23 L291.95,156.04 L292.20,155.82 L292.45,155.58 L292.70,155.33 L292.95,155.08 L293.20,154.84 L293.45,154.66 L293.70,154.53 L293.95,154.48 L294.20,154.50 L294.45,154.60 L294.70,154.76 L294.95,154.94 L295.20,155.14 L295.45,155.34 L295.70,155.51 L295.95,155.66 L296.20,155.77 L296.45,155.85 L296.70,155.89 L296.95,155.92 L297.20,155.91 L297.45,155.90 L297.70,155.86 L297.95,155.82 L298.20,155.77 L298.45,155.71 L298.70,155.65 L298.95,155.58 L299.20,155.50 L299.45,155.42 L299.70,155.33 L299.95,155.23 L300.20,155.14 L300.45,155.04 L300.70,154.93 L300.95,154.80 L301.20,154.67 L301.45,154.52 L301.70,154.35 L301.95,154.17 L302.20,153.97 L302.45,153.75 L302.70,153.51 L302.95,153.24 L303.20,152.95 L303.45,152.63 L303.70,152.27 L303.95,151.88 L304.20,151.44 L304.45,150.95 L304.70,150.41 L304.95,149.80 L305.20,149.11 L305.45,148.32 L305.70,147.37 L305.95,146.15 L306.20,144.34 L306.45,141.15 L306.70,134.81 L306.95,121.86 L307.20,96.31 L307.45,49.65 L307.70,-19.60 L307.95,-19.60 L308.20,-19.60 L308.45,-19.60 L308.70,-19.60 L308.95,-19.60 L309.20,-19.60 L309.45,-19.60 L309.70,-19.60 L309.95,-19.60 L310.20,-19.60 L310.45,-19.60 L310.70,-19.60 L310.95,49.46 L311.20,96.06 L311.45,121.51 L311.70,134.37 L311.95,140.58 L312.20,143.63 L312.45,145.29 L312.70,146.34 L312.95,147.12 L313.20,147.75 L313.45,148.29 L313.70,148.76 L313.95,149.20 L314.20,149.62 L314.45,150.03 L314.70,150.45 L314.95,150.87 L315.20,151.30 L315.45,151.73 L315.70,152.15 L315.95,152.57 L316.20,152.97 L316.45,153.35 L316.70,153.70 L316.95,154.03 L317.20,154.32 L317.45,154.58 L317.70,154.81 L317.95,155.01 L318.20,155.18 L318.45,155.33 L318.70,155.46 L318.95,155.57 L319.20,155.67 L319.45,155.76 L319.70,155.83 L319.95,155.90 L320.20,155.96 L320.45,156.01 L320.70,156.06 L320.95,156.10 L321.20,156.14 L321.45,156.18 L321.70,156.22 L321.95,156.25 L322.20,156.22 L322.45,156.18 L322.70,156.14 L322.95,156.09 L323.20,156.05 L323.45,156.00 L323.70,155.95 L323.95,155.90 L324.20,155.85 L324.45,155.80 L324.70,155.75 L324.95,155.69 L325.20,155.64 L325.45,155.59 L325.70,155.53 L325.95,155.48 L326.20,155.42 L326.45,155.36 L326.70,155.31 L326.95,155.25 L327.20,155.19 L327.45,155.13 L327.70,155.08 L327.95,155.02 L328.20,154.96 L328.45,154.90 L328.70,154.84 L328.95,154.78 L329.20,154.72 L329.45,154.66 L329.70,154.60 L329.95,154.54 L330.20,154.48" fill="none" stroke="#6f6fae" stroke-width="1.05" stroke-linejoin="round"/>
<path d="M54.45,128.24 L54.70,128.22 L54.95,128.20 L55.20,128.18 L55.45,128.17 L55.70,128.15 L55.95,128.13 L56.20,128.11 L56.45,128.09 L56.70,128.07 L56.95,128.06 L57.20,128.04 L57.45,128.02 L57.70,128.00 L57.95,127.98 L58.20,127.96 L58.45,127.94 L58.70,127.92 L58.95,127.90 L59.20,127.88 L59.45,127.87 L59.70,127.85 L59.95,127.83 L60.20,127.81 L60.45,127.79 L60.70,127.76 L60.95,127.74 L61.20,127.72 L61.45,127.70 L61.70,127.68 L61.95,127.66 L62.20,127.64 L62.45,127.61 L62.70,127.59 L62.95,127.56 L63.20,127.54 L63.45,127.51 L63.70,127.49 L63.95,127.46 L64.20,127.43 L64.45,127.40 L64.70,127.36 L64.95,127.33 L65.20,127.28 L65.45,127.23 L65.70,127.16 L65.95,127.05 L66.20,126.91 L66.45,126.70 L66.70,126.38 L66.95,125.92 L67.20,125.25 L67.45,124.35 L67.70,123.15 L67.95,121.63 L68.20,119.79 L68.45,117.68 L68.70,115.38 L68.95,113.04 L69.20,110.84 L69.45,108.98 L69.70,107.68 L69.95,107.10 L70.20,107.31 L70.45,108.29 L70.70,109.90 L70.95,111.93 L71.20,114.19 L71.45,116.47 L71.70,118.62 L71.95,120.52 L72.20,122.12 L72.45,123.39 L72.70,124.36 L72.95,125.06 L73.20,125.55 L73.45,125.88 L73.70,126.08 L73.95,126.21 L74.20,126.28 L74.45,126.31 L74.70,126.33 L74.95,126.33 L75.20,126.32 L75.45,126.31 L75.70,126.29 L75.95,126.27 L76.20,126.24 L76.45,126.21 L76.70,126.17 L76.95,126.12 L77.20,126.05 L77.45,125.94 L77.70,125.80 L77.95,125.59 L78.20,125.30 L78.45,124.90 L78.70,124.38 L78.95,123.73 L79.20,122.93 L79.45,122.03 L79.70,121.04 L79.95,120.03 L80.20,119.08 L80.45,118.28 L80.70,117.72 L80.95,117.46 L81.20,117.54 L81.45,117.94 L81.70,118.61 L81.95,119.47 L82.20,120.41 L82.45,121.37 L82.70,122.27 L82.95,123.06 L83.20,123.73 L83.45,124.26 L83.70,124.66 L83.95,124.94 L84.20,125.14 L84.45,125.26 L84.70,125.34 L84.95,125.38 L85.20,125.41 L85.45,125.43 L85.70,125.44 L85.95,125.45 L86.20,125.45 L86.45,125.46 L86.70,125.46 L86.95,125.45 L87.20,125.45 L87.45,125.45 L87.70,125.45 L87.95,125.45 L88.20,125.44 L88.45,125.44 L88.70,125.43 L88.95,125.43 L89.20,125.43 L89.45,125.42 L89.70,125.42 L89.95,125.41 L90.20,125.41 L90.45,125.40 L90.70,125.39 L90.95,125.39 L91.20,125.38 L91.45,125.38 L91.70,125.37 L91.95,125.37 L92.20,125.36 L92.45,125.35 L92.70,125.35 L92.95,125.34 L93.20,125.34 L93.45,125.33 L93.70,125.32 L93.95,125.32 L94.20,125.31 L94.45,125.30 L94.70,125.30 L94.95,125.29 L95.20,125.28 L95.45,125.28 L95.70,125.27 L95.95,125.26 L96.20,125.26 L96.45,125.25 L96.70,125.24 L96.95,125.23 L97.20,125.23 L97.45,125.22 L97.70,125.21 L97.95,125.21 L98.20,125.20 L98.45,125.19 L98.70,125.18 L98.95,125.18 L99.20,125.17 L99.45,125.16 L99.70,125.15 L99.95,125.14 L100.20,125.14 L100.45,125.14 L100.70,125.14 L100.95,125.14 L101.20,125.14 L101.45,125.14 L101.70,125.13 L101.95,125.13 L102.20,125.13 L102.45,125.13 L102.70,125.12 L102.95,125.12 L103.20,125.12 L103.45,125.11 L103.70,125.11 L103.95,125.10 L104.20,125.10 L104.45,125.09 L104.70,125.09 L104.95,125.08 L105.20,125.07 L105.45,125.06 L105.70,125.05 L105.95,125.04 L106.20,125.02 L106.45,125.00 L106.70,124.98 L106.95,124.94 L107.20,124.89 L107.45,124.80 L107.70,124.67 L107.95,124.46 L108.20,124.13 L108.45,123.63 L108.70,122.91 L108.95,121.92 L109.20,120.60 L109.45,118.94 L109.70,116.99 L109.95,114.82 L110.20,112.57 L110.45,110.45 L110.70,108.67 L110.95,107.48 L111.20,107.04 L111.45,107.43 L111.70,108.56 L111.95,110.27 L112.20,112.32 L112.45,114.48 L112.70,116.56 L112.95,118.39 L113.20,119.88 L113.45,120.99 L113.70,121.71 L113.95,122.07 L114.20,122.09 L114.45,121.82 L114.70,121.29 L114.95,120.56 L115.20,119.66 L115.45,118.67 L115.70,117.66 L115.95,116.70 L116.20,115.87 L116.45,115.25 L116.70,114.86 L116.95,114.68 L117.20,114.67 L117.45,114.75 L117.70,114.85 L117.95,114.89 L118.20,114.82 L118.45,114.62 L118.70,114.24 L118.95,113.67 L119.20,112.83 L119.45,111.55 L119.70,109.48 L119.95,105.95 L120.20,99.75 L120.45,88.90 L120.70,70.46 L120.95,40.44 L121.20,-6.00 L121.45,-19.60 L121.70,-19.60 L121.95,-19.60 L122.20,-19.60 L122.45,-19.60 L122.70,-19.60 L122.95,-19.60 L123.20,-19.60 L123.45,-19.60 L123.70,-19.60 L123.95,-19.60 L124.20,-19.60 L124.45,-19.60 L124.70,-19.60 L124.95,-19.60 L125.20,-19.60 L125.45,-19.60 L125.70,-19.60 L125.95,-17.65 L126.20,32.71 L126.45,65.62 L126.70,86.04 L126.95,98.16 L127.20,105.16 L127.45,109.18 L127.70,111.59 L127.95,113.15 L128.20,114.31 L128.45,115.26 L128.70,116.11 L128.95,116.90 L129.20,117.65 L129.45,118.35 L129.70,119.01 L129.95,119.63 L130.20,120.21 L130.45,120.74 L130.70,121.23 L130.95,121.68 L131.20,122.08 L131.45,122.44 L131.70,122.75 L131.95,123.01 L132.20,123.21 L132.45,123.35 L132.70,123.41 L132.95,123.40 L133.20,123.31 L133.45,123.12 L133.70,122.86 L133.95,122.53 L134.20,122.16 L134.45,121.78 L134.70,121.43 L134.95,121.15 L135.20,121.00 L135.45,120.98 L135.70,121.12 L135.95,121.40 L136.20,121.78 L136.45,122.23 L136.70,122.70 L136.95,123.16 L137.20,123.58 L137.45,123.94 L137.70,124.23 L137.95,124.45 L138.20,124.61 L138.45,124.72 L138.70,124.78 L138.95,124.79 L139.20,124.76 L139.45,124.66 L139.70,124.48 L139.95,124.19 L140.20,123.72 L140.45,123.03 L140.70,122.03 L140.95,120.67 L141.20,118.90 L141.45,116.74 L141.70,114.24 L141.95,111.53 L142.20,108.84 L142.45,106.40 L142.70,104.51 L142.95,103.43 L143.20,103.33 L143.45,104.23 L143.70,105.98 L143.95,108.33 L144.20,111.00 L144.45,113.73 L144.70,116.28 L144.95,118.53 L145.20,120.38 L145.45,121.82 L145.70,122.90 L145.95,123.65 L146.20,124.17 L146.45,124.51 L146.70,124.72 L146.95,124.86 L147.20,124.94 L147.45,125.00 L147.70,125.03 L147.95,125.06 L148.20,125.08 L148.45,125.10 L148.70,125.12 L148.95,125.13 L149.20,125.14 L149.45,125.15 L149.70,125.16 L149.95,125.17 L150.20,125.18 L150.45,125.18 L150.70,125.19 L150.95,125.20 L151.20,125.20 L151.45,125.21 L151.70,125.21 L151.95,125.22 L152.20,125.22 L152.45,125.22 L152.70,125.23 L152.95,125.23 L153.20,125.23 L153.45,125.23 L153.70,125.24 L153.95,125.24 L154.20,125.24 L154.45,125.24 L154.70,125.24 L154.95,125.24 L155.20,125.24 L155.45,125.23 L155.70,125.22 L155.95,125.20 L156.20,125.19 L156.45,125.18 L156.70,125.16 L156.95,125.15 L157.20,125.13 L157.45,125.11 L157.70,125.09 L157.95,125.06 L158.20,125.03 L158.45,125.00 L158.70,124.96 L158.95,124.92 L159.20,124.87 L159.45,124.81 L159.70,124.75 L159.95,124.68 L160.20,124.60 L160.45,124.52 L160.70,124.42 L160.95,124.31 L161.20,124.19 L161.45,124.06 L161.70,123.92 L161.95,123.77 L162.20,123.60 L162.45,123.41 L162.70,123.22 L162.95,123.01 L163.20,122.79 L163.45,122.56 L163.70,122.31 L163.95,122.05 L164.20,121.81 L164.45,121.56 L164.70,121.27 L164.95,120.87 L165.20,120.23 L165.45,118.98 L165.70,116.37 L165.95,110.95 L166.20,100.17 L166.45,79.93 L166.70,44.44 L166.95,-13.38 L167.20,-19.60 L167.45,-19.60 L167.70,-19.60 L167.95,-19.60 L168.20,-19.60 L168.45,-19.60 L168.70,-19.60 L168.95,-19.60 L169.20,-19.60 L169.45,-19.60 L169.70,-19.60 L169.95,-19.60 L170.20,-19.60 L170.45,-19.60 L170.70,-19.60 L170.95,-19.60 L171.20,24.92 L171.45,68.51 L171.70,94.12 L171.95,108.17 L172.20,115.40 L172.45,118.96 L172.70,120.69 L172.95,121.58 L173.20,122.11 L173.45,122.49 L173.70,122.81 L173.95,123.11 L174.20,123.39 L174.45,123.66 L174.70,123.92 L174.95,124.17 L175.20,124.41 L175.45,124.63 L175.70,124.84 L175.95,125.03 L176.20,125.21 L176.45,125.38 L176.70,125.54 L176.95,125.68 L177.20,125.82 L177.45,125.94 L177.70,126.05 L177.95,126.15 L178.20,126.25 L178.45,126.33 L178.70,126.41 L178.95,126.48 L179.20,126.55 L179.45,126.61 L179.70,126.67 L179.95,126.72 L180.20,126.77 L180.45,126.81 L180.70,126.86 L180.95,126.90 L181.20,126.94 L181.45,126.97 L181.70,127.01 L181.95,127.04 L182.20,127.08 L182.45,127.11 L182.70,127.14 L182.95,127.17 L183.20,127.20 L183.45,127.24 L183.70,127.27 L183.95,127.30 L184.20,127.33 L184.45,127.35 L184.70,127.38 L184.95,127.41 L185.20,127.44 L185.45,127.47 L185.70,127.50 L185.95,127.53 L186.20,127.56 L186.45,127.59 L186.70,127.62 L186.95,127.64 L187.20,127.67 L187.45,127.70 L187.70,127.73 L187.95,127.76 L188.20,127.79 L188.45,127.82 L188.70,127.85 L188.95,127.87 L189.20,127.90 L189.45,127.93 L189.70,127.96 L189.95,127.99 L190.20,128.02 L190.45,128.04 L190.70,128.07 L190.95,128.10 L191.20,128.13 L191.45,128.16 L191.70,128.18 L191.95,128.21 L192.20,128.24 L192.45,128.27 L192.70,128.30 L192.95,128.32 L193.20,128.35 L193.45,128.38 L193.70,128.40 L193.95,128.43 L194.20,128.45 L194.45,128.48 L194.70,128.50 L194.95,128.52 L195.20,128.53 L195.45,128.52 L195.70,128.51 L195.95,128.47 L196.20,128.40 L196.45,128.28 L196.70,128.10 L196.95,127.84 L197.20,127.48 L197.45,127.03 L197.70,126.49 L197.95,125.91 L198.20,125.33 L198.45,124.83 L198.70,124.47 L198.95,124.32 L199.20,124.41 L199.45,124.72 L199.70,125.20 L199.95,125.79 L200.20,126.40 L200.45,126.99 L200.70,127.51 L200.95,127.93 L201.20,128.26 L201.45,128.50 L201.70,128.67 L201.95,128.79 L202.20,128.87 L202.45,128.92 L202.70,128.96 L202.95,128.98 L203.20,129.01 L203.45,129.03 L203.70,129.04 L203.95,129.06 L204.20,129.08 L204.45,129.09 L204.70,129.10 L204.95,129.12 L205.20,129.13 L205.45,129.13 L205.70,129.14 L205.95,129.13 L206.20,129.10 L206.45,129.05 L206.70,128.96 L206.95,128.81 L207.20,128.59 L207.45,128.30 L207.70,127.91 L207.95,127.45 L208.20,126.94 L208.45,126.43 L208.70,125.96 L208.95,125.62 L209.20,125.44 L209.45,125.48 L209.70,125.72 L209.95,126.13 L210.20,126.64 L210.45,127.19 L210.70,127.72 L210.95,128.20 L211.20,128.60 L211.45,128.91 L211.70,129.14 L211.95,129.30 L212.20,129.42 L212.45,129.49 L212.70,129.55 L212.95,129.59 L213.20,129.61 L213.45,129.64 L213.70,129.66 L213.95,129.68 L214.20,129.70 L214.45,129.72 L214.70,129.73 L214.95,129.75 L215.20,129.76 L215.45,129.77 L215.70,129.77 L215.95,129.78 L216.20,129.79 L216.45,129.79 L216.70,129.80 L216.95,129.81 L217.20,129.81 L217.45,129.82 L217.70,129.83 L217.95,129.83 L218.20,129.84 L218.45,129.84 L218.70,129.85 L218.95,129.85 L219.20,129.86 L219.45,129.87 L219.70,129.87 L219.95,129.88 L220.20,129.88 L220.45,129.89 L220.70,129.89 L220.95,129.90 L221.20,129.90 L221.45,129.91 L221.70,129.91 L221.95,129.91 L222.20,129.92 L222.45,129.92 L222.70,129.92 L222.95,129.91 L223.20,129.91 L223.45,129.89 L223.70,129.87 L223.95,129.83 L224.20,129.78 L224.45,129.70 L224.70,129.60 L224.95,129.48 L225.20,129.32 L225.45,129.14 L225.70,128.94 L225.95,128.72 L226.20,128.52 L226.45,128.33 L226.70,128.18 L226.95,128.08 L227.20,128.05 L227.45,128.10 L227.70,128.20 L227.95,128.36 L228.20,128.56 L228.45,128.78 L228.70,129.00 L228.95,129.22 L229.20,129.41 L229.45,129.58 L229.70,129.72 L229.95,129.83 L230.20,129.91 L230.45,129.98 L230.70,130.03 L230.95,130.06 L231.20,130.09 L231.45,130.11 L231.70,130.12 L231.95,130.13 L232.20,130.14 L232.45,130.15 L232.70,130.16 L232.95,130.16 L233.20,130.17 L233.45,130.18 L233.70,130.18 L233.95,130.19 L234.20,130.20 L234.45,130.20 L234.70,130.21 L234.95,130.21 L235.20,130.22 L235.45,130.23 L235.70,130.23 L235.95,130.24 L236.20,130.24 L236.45,130.25 L236.70,130.25 L236.95,130.26 L237.20,130.26 L237.45,130.27 L237.70,130.27 L237.95,130.28 L238.20,130.28 L238.45,130.29 L238.70,130.29 L238.95,130.30 L239.20,130.30 L239.45,130.30 L239.70,130.31 L239.95,130.31 L240.20,130.31 L240.45,130.31 L240.70,130.30 L240.95,130.29 L241.20,130.27 L241.45,130.23 L241.70,130.17 L241.95,130.09 L242.20,129.97 L242.45,129.81 L242.70,129.60 L242.95,129.35 L243.20,129.05 L243.45,128.71 L243.70,128.37 L243.95,128.04 L244.20,127.76 L244.45,127.56 L244.70,127.46 L244.95,127.47 L245.20,127.61 L245.45,127.84 L245.70,128.15 L245.95,128.49 L246.20,128.84 L246.45,129.18 L246.70,129.48 L246.95,129.74 L247.20,129.95 L247.45,130.12 L247.70,130.24 L247.95,130.33 L248.20,130.39 L248.45,130.43 L248.70,130.46 L248.95,130.49 L249.20,130.50 L249.45,130.51 L249.70,130.52 L249.95,130.53 L250.20,130.53 L250.45,130.53 L250.70,130.53 L250.95,130.52 L251.20,130.52 L251.45,130.52 L251.70,130.51 L251.95,130.51 L252.20,130.51 L252.45,130.50 L252.70,130.50 L252.95,130.49 L253.20,130.49 L253.45,130.48 L253.70,130.48 L253.95,130.47 L254.20,130.47 L254.45,130.47 L254.70,130.46 L254.95,130.46 L255.20,130.45 L255.45,130.45 L255.70,130.44 L255.95,130.44 L256.20,130.43 L256.45,130.43 L256.70,130.42 L256.95,130.42 L257.20,130.41 L257.45,130.41 L257.70,130.40 L257.95,130.40 L258.20,130.39 L258.45,130.39 L258.70,130.38 L258.95,130.38 L259.20,130.37 L259.45,130.37 L259.70,130.36 L259.95,130.35 L260.20,130.35 L260.45,130.34 L260.70,130.34 L260.95,130.33 L261.20,130.33 L261.45,130.32 L261.70,130.32 L261.95,130.31 L262.20,130.30 L262.45,130.30 L262.70,130.29 L262.95,130.29 L263.20,130.28 L263.45,130.27 L263.70,130.27 L263.95,130.26 L264.20,130.25 L264.45,130.25 L264.70,130.24 L264.95,130.23 L265.20,130.23 L265.45,130.22 L265.70,130.21 L265.95,130.20 L266.20,130.19 L266.45,130.17 L266.70,130.15 L266.95,130.12 L267.20,130.07 L267.45,130.01 L267.70,129.93 L267.95,129.81 L268.20,129.66 L268.45,129.46 L268.70,129.23 L268.95,128.96 L269.20,128.67 L269.45,128.38 L269.70,128.10 L269.95,127.86 L270.20,127.69 L270.45,127.62 L270.70,127.64 L270.95,127.75 L271.20,127.95 L271.45,128.19 L271.70,128.46 L271.95,128.73 L272.20,128.98 L272.45,129.18 L272.70,129.32 L272.95,129.40 L273.20,129.41 L273.45,129.34 L273.70,129.19 L273.95,128.97 L274.20,128.68 L274.45,128.32 L274.70,127.93 L274.95,127.53 L275.20,127.15 L275.45,126.83 L275.70,126.60 L275.95,126.50 L276.20,126.53 L276.45,126.71 L276.70,126.99 L276.95,127.34 L277.20,127.74 L277.45,128.14 L277.70,128.51 L277.95,128.84 L278.20,129.12 L278.45,129.34 L278.70,129.51 L278.95,129.63 L279.20,129.72 L279.45,129.77 L279.70,129.81 L279.95,129.83 L280.20,129.84 L280.45,129.84 L280.70,129.84 L280.95,129.84 L281.20,129.84 L281.45,129.83 L281.70,129.83 L281.95,129.83 L282.20,129.81 L282.45,129.80 L282.70,129.78 L282.95,129.77 L283.20,129.75 L283.45,129.74 L283.70,129.72 L283.95,129.70 L284.20,129.69 L284.45,129.67 L284.70,129.65 L284.95,129.64 L285.20,129.62 L285.45,129.60 L285.70,129.59 L285.95,129.57 L286.20,129.55 L286.45,129.53 L286.70,129.51 L286.95,129.50 L287.20,129.48 L287.45,129.46 L287.70,129.44 L287.95,129.42 L288.20,129.40 L288.45,129.38 L288.70,129.36 L288.95,129.34 L289.20,129.32 L289.45,129.30 L289.70,129.27 L289.95,129.25 L290.20,129.23 L290.45,129.21 L290.70,129.18 L290.95,129.16 L291.20,129.13 L291.45,129.10 L291.70,129.07 L291.95,129.03 L292.20,128.98 L292.45,128.92 L292.70,128.85 L292.95,128.74 L293.20,128.61 L293.45,128.43 L293.70,128.21 L293.95,127.94 L294.20,127.62 L294.45,127.26 L294.70,126.89 L294.95,126.51 L295.20,126.17 L295.45,125.89 L295.70,125.71 L295.95,125.64 L296.20,125.68 L296.45,125.83 L296.70,126.07 L296.95,126.35 L297.20,126.65 L297.45,126.94 L297.70,127.20 L297.95,127.42 L298.20,127.58 L298.45,127.69 L298.70,127.76 L298.95,127.78 L299.20,127.77 L299.45,127.73 L299.70,127.67 L299.95,127.58 L300.20,127.50 L300.45,127.41 L300.70,127.31 L300.95,127.19 L301.20,127.06 L301.45,126.91 L301.70,126.75 L301.95,126.57 L302.20,126.38 L302.45,126.16 L302.70,125.92 L302.95,125.66 L303.20,125.37 L303.45,125.05 L303.70,124.69 L303.95,124.30 L304.20,123.86 L304.45,123.38 L304.70,122.84 L304.95,122.23 L305.20,121.55 L305.45,120.75 L305.70,119.81 L305.95,118.60 L306.20,116.79 L306.45,113.60 L306.70,107.27 L306.95,94.31 L307.20,68.77 L307.45,22.11 L307.70,-19.60 L307.95,-19.60 L308.20,-19.60 L308.45,-19.60 L308.70,-19.60 L308.95,-19.60 L309.20,-19.60 L309.45,-19.60 L309.70,-19.60 L309.95,-19.60 L310.20,-19.60 L310.45,-19.60 L310.70,-19.60 L310.95,22.17 L311.20,68.85 L311.45,94.39 L311.70,107.36 L311.95,113.69 L312.20,116.89 L312.45,118.71 L312.70,119.93 L312.95,120.88 L313.20,121.67 L313.45,122.35 L313.70,122.95 L313.95,123.47 L314.20,123.91 L314.45,124.28 L314.70,124.58 L314.95,124.79 L315.20,124.91 L315.45,124.94 L315.70,124.88 L315.95,124.73 L316.20,124.52 L316.45,124.26 L316.70,124.00 L316.95,123.78 L317.20,123.63 L317.45,123.60 L317.70,123.72 L317.95,123.98 L318.20,124.37 L318.45,124.85 L318.70,125.39 L318.95,125.94 L319.20,126.46 L319.45,126.94 L319.70,127.35 L319.95,127.70 L320.20,127.97 L320.45,128.19 L320.70,128.35 L320.95,128.48 L321.20,128.57 L321.45,128.65 L321.70,128.70 L321.95,128.75 L322.20,128.79 L322.45,128.83 L322.70,128.86 L322.95,128.89 L323.20,128.87 L323.45,128.84 L323.70,128.81 L323.95,128.78 L324.20,128.75 L324.45,128.71 L324.70,128.68 L324.95,128.64 L325.20,128.59 L325.45,128.55 L325.70,128.49 L325.95,128.43 L326.20,128.36 L326.45,128.28 L326.70,128.17 L326.95,128.05 L327.20,127.89 L327.45,127.71 L327.70,127.48 L327.95,127.21 L328.20,126.90 L328.45,126.54 L328.70,126.14 L328.95,125.70 L329.20,125.23 L329.45,124.76 L329.70,124.29 L329.95,123.85 L330.20,123.46" fill="none" stroke="#684a80" stroke-width="1.05" stroke-linejoin="round"/>
</g>
<rect x="54.45" y="10.4" width="275.75" height="213.0" fill="none" stroke="#3a3a3a" stroke-width="1"/>
<line x1="50.95" y1="223.40" x2="54.45" y2="223.40" stroke="#3a3a3a" stroke-width="1" />
<text x="48.55" y="227.10" font-size="12.8" text-anchor="end" fill="#222" font-weight="normal" stroke="#222" stroke-width="0.15" >0</text>
<line x1="50.95" y1="170.15" x2="54.45" y2="170.15" stroke="#3a3a3a" stroke-width="1" />
<text x="48.55" y="173.85" font-size="12.8" text-anchor="end" fill="#222" font-weight="normal" stroke="#222" stroke-width="0.15" >200</text>
<line x1="50.95" y1="116.90" x2="54.45" y2="116.90" stroke="#3a3a3a" stroke-width="1" />
<text x="48.55" y="120.60" font-size="12.8" text-anchor="end" fill="#222" font-weight="normal" stroke="#222" stroke-width="0.15" >400</text>
<line x1="50.95" y1="63.65" x2="54.45" y2="63.65" stroke="#3a3a3a" stroke-width="1" />
<text x="48.55" y="67.35" font-size="12.8" text-anchor="end" fill="#222" font-weight="normal" stroke="#222" stroke-width="0.15" >600</text>
<line x1="50.95" y1="10.40" x2="54.45" y2="10.40" stroke="#3a3a3a" stroke-width="1" />
<text x="48.55" y="14.10" font-size="12.8" text-anchor="end" fill="#222" font-weight="normal" stroke="#222" stroke-width="0.15" >800</text>
<line x1="52.45" y1="196.78" x2="54.45" y2="196.78" stroke="#3a3a3a" stroke-width="1" />
<line x1="52.45" y1="143.53" x2="54.45" y2="143.53" stroke="#3a3a3a" stroke-width="1" />
<line x1="52.45" y1="90.28" x2="54.45" y2="90.28" stroke="#3a3a3a" stroke-width="1" />
<line x1="52.45" y1="37.03" x2="54.45" y2="37.03" stroke="#3a3a3a" stroke-width="1" />
<line x1="54.45" y1="223.40" x2="54.45" y2="226.60" stroke="#3a3a3a" stroke-width="1" />
<text x="54.45" y="238.00" font-size="12.8" text-anchor="middle" fill="#222" font-weight="normal" stroke="#222" stroke-width="0.15" >3</text>
<line x1="128.95" y1="223.40" x2="128.95" y2="226.60" stroke="#3a3a3a" stroke-width="1" />
<text x="128.95" y="238.00" font-size="12.8" text-anchor="middle" fill="#222" font-weight="normal" stroke="#222" stroke-width="0.15" >4</text>
<line x1="203.45" y1="223.40" x2="203.45" y2="226.60" stroke="#3a3a3a" stroke-width="1" />
<text x="203.45" y="238.00" font-size="12.8" text-anchor="middle" fill="#222" font-weight="normal" stroke="#222" stroke-width="0.15" >5</text>
<line x1="277.95" y1="223.40" x2="277.95" y2="226.60" stroke="#3a3a3a" stroke-width="1" />
<text x="277.95" y="238.00" font-size="12.8" text-anchor="middle" fill="#222" font-weight="normal" stroke="#222" stroke-width="0.15" >6</text>
<line x1="91.70" y1="223.40" x2="91.70" y2="225.20" stroke="#3a3a3a" stroke-width="1" />
<line x1="166.20" y1="223.40" x2="166.20" y2="225.20" stroke="#3a3a3a" stroke-width="1" />
<line x1="240.70" y1="223.40" x2="240.70" y2="225.20" stroke="#3a3a3a" stroke-width="1" />
<line x1="315.20" y1="223.40" x2="315.20" y2="225.20" stroke="#3a3a3a" stroke-width="1" />
<text x="192.00" y="253.50" font-size="16" text-anchor="middle" fill="#222" font-weight="normal" stroke="#222" stroke-width="0.15" >2θ, °</text>
<text x="23.80" y="112.00" font-size="16" text-anchor="middle" fill="#222" font-weight="normal" stroke="#222" stroke-width="0.15" transform="rotate(-90 23.80 112.00)" >Intensity, a.u.</text>
<text x="3.00" y="23.50" font-size="22.5" text-anchor="start" fill="#000" font-weight="bold" >a)</text>
<line x1="192.00" y1="17.50" x2="213.70" y2="17.50" stroke="#7a5a8e" stroke-width="1.1" />
<text x="216.80" y="21.10" font-size="10.6" text-anchor="start" fill="#222" font-weight="normal" stroke="#222" stroke-width="0.15"  textLength="50.8" lengthAdjust="spacingAndGlyphs">718+5.0TiB<tspan font-size="7.6" dy="2.4">2</tspan></text>
<line x1="192.00" y1="31.80" x2="213.70" y2="31.80" stroke="#8a8ab8" stroke-width="1.1" />
<text x="216.80" y="35.40" font-size="10.6" text-anchor="start" fill="#222" font-weight="normal" stroke="#222" stroke-width="0.15"  textLength="55.4" lengthAdjust="spacingAndGlyphs">718+3.75TiB<tspan font-size="7.6" dy="2.4">2</tspan></text>
<line x1="192.00" y1="45.80" x2="213.70" y2="45.80" stroke="#5cb8a6" stroke-width="1.1" />
<text x="216.80" y="49.20" font-size="10.6" text-anchor="start" fill="#222" font-weight="normal" stroke="#222" stroke-width="0.15"  textLength="50.8" lengthAdjust="spacingAndGlyphs">718+2.5TiB<tspan font-size="7.6" dy="2.4">2</tspan></text>
<line x1="192.00" y1="60.00" x2="213.70" y2="60.00" stroke="#ccdc60" stroke-width="1.1" />
<text x="216.80" y="63.50" font-size="10.6" text-anchor="start" fill="#222" font-weight="normal" stroke="#222" stroke-width="0.15"  textLength="55.4" lengthAdjust="spacingAndGlyphs">718+1.25TiB<tspan font-size="7.6" dy="2.4">2</tspan></text>
<line x1="192.00" y1="74.40" x2="213.70" y2="74.40" stroke="#f2a060" stroke-width="1.1" />
<text x="216.80" y="77.90" font-size="10.6" text-anchor="start" fill="#222" font-weight="normal" stroke="#222" stroke-width="0.15"  textLength="14.5" lengthAdjust="spacingAndGlyphs">718</text>
<polygon points="67.00,101.80 72.40,101.80 69.70,106.30" fill="#e80000"/>
<polygon points="69.60,105.90 75.00,105.90 72.30,110.40" fill="#000"/>
<circle cx="81.00" cy="110.00" r="3" fill="#b8b8b8"/>
<polygon points="75.90,116.60 81.30,116.60 78.60,121.10" fill="#e80000"/>
<polygon points="108.00,93.40 113.40,93.40 110.70,97.90" fill="#000"/>
<polygon points="110.30,80.70 112.10,83.50 110.30,86.30 108.50,83.50" fill="#fff" stroke="#444" stroke-width="0.8"/>
<polygon points="69.70,84.50 71.50,87.30 69.70,90.10 67.90,87.30" fill="#fff" stroke="#444" stroke-width="0.8"/>
<circle cx="116.30" cy="107.60" r="3" fill="#b8b8b8"/>
<polygon points="133.90,105.10 139.30,105.10 136.60,109.60" fill="#e80000"/>
<polygon points="140.70,92.60 146.10,92.60 143.40,97.10" fill="#e80000"/>
<circle cx="151.00" cy="119.30" r="2.4" fill="#d8cf2a"/>
<circle cx="161.20" cy="119.30" r="2.4" fill="#d8cf2a"/>
<circle cx="182.60" cy="122.70" r="2.4" fill="#d8cf2a"/>
<circle cx="204.70" cy="126.20" r="2.4" fill="#d8cf2a"/>
<polygon points="198.70,114.10 200.50,116.90 198.70,119.70 196.90,116.90" fill="#fff" stroke="#444" stroke-width="0.8"/>
<polygon points="208.60,115.00 210.40,117.80 208.60,120.60 206.80,117.80" fill="#fff" stroke="#444" stroke-width="0.8"/>
<polygon points="244.20,116.10 246.00,118.90 244.20,121.70 242.40,118.90" fill="#fff" stroke="#444" stroke-width="0.8"/>
<polygon points="217.10,122.50 222.50,122.50 219.80,127.00" fill="#e80000"/>
<polygon points="223.20,118.90 229.60,118.90 226.40,124.50" fill="#000"/>
<circle cx="235.60" cy="125.10" r="3.2" fill="#b8b8b8"/>
<polygon points="269.20,118.30 271.00,121.10 269.20,123.90 267.40,121.10" fill="#fff" stroke="#444" stroke-width="0.8"/>
<polygon points="273.30,119.90 278.70,119.90 276.00,124.40" fill="#e80000"/>
<polygon points="286.10,123.60 291.50,123.60 288.80,128.10" fill="#e80000"/>
<polygon points="293.50,119.20 298.90,119.20 296.20,123.70" fill="#e80000"/>
<polygon points="315.30,117.40 320.70,117.40 318.00,121.90" fill="#e80000"/>
<polygon points="288.90,111.80 295.50,111.80 292.20,117.40" fill="#000"/>
<rect x="83.80" y="200.40" width="4.4" height="4.4" fill="#fff" fill-opacity="0.6" stroke="#aaa" stroke-width="0.8"/>
<rect x="104.80" y="191.50" width="4.4" height="4.4" fill="#fff" fill-opacity="0.6" stroke="#aaa" stroke-width="0.8"/>
<rect x="109.90" y="183.10" width="4.4" height="4.4" fill="#fff" fill-opacity="0.6" stroke="#aaa" stroke-width="0.8"/>
<rect x="133.00" y="192.30" width="4.4" height="4.4" fill="#fff" fill-opacity="0.6" stroke="#aaa" stroke-width="0.8"/>
<rect x="141.80" y="200.20" width="4.4" height="4.4" fill="#fff" fill-opacity="0.6" stroke="#aaa" stroke-width="0.8"/>
<rect x="175.00" y="200.20" width="4.4" height="4.4" fill="#fff" fill-opacity="0.6" stroke="#aaa" stroke-width="0.8"/>
<rect x="283.00" y="204.90" width="4.4" height="4.4" fill="#fff" fill-opacity="0.6" stroke="#aaa" stroke-width="0.8"/>
<rect x="296.40" y="203.70" width="4.4" height="4.4" fill="#fff" fill-opacity="0.6" stroke="#aaa" stroke-width="0.8"/>
<rect x="317.90" y="204.90" width="4.4" height="4.4" fill="#fff" fill-opacity="0.6" stroke="#aaa" stroke-width="0.8"/>
<rect x="115.4" y="12.6" width="13.10" height="25.2" fill="#fff" stroke="#a0a0a0" stroke-width="0.8"/>
<text x="124.50" y="36.60" font-size="9.2" text-anchor="start" fill="#222" font-weight="normal" stroke="#222" stroke-width="0.15" transform="rotate(-90 124.50 36.60)" >(111)<tspan font-size="7" dy="2.5">γ</tspan></text>
<rect x="160.6" y="12.6" width="14.70" height="25.2" fill="#fff" stroke="#a0a0a0" stroke-width="0.8"/>
<text x="170.00" y="36.60" font-size="9.2" text-anchor="start" fill="#222" font-weight="normal" stroke="#222" stroke-width="0.15" transform="rotate(-90 170.00 36.60)" >(200)<tspan font-size="7" dy="2.5">γ</tspan></text>
<rect x="292.3" y="12.6" width="14.80" height="25.2" fill="#fff" stroke="#a0a0a0" stroke-width="0.8"/>
<text x="301.50" y="37.00" font-size="9.2" text-anchor="start" fill="#222" font-weight="normal" stroke="#222" stroke-width="0.15" transform="rotate(-90 301.50 37.00)" >(220)<tspan font-size="7" dy="2.5">γ</tspan></text>
<text x="73.10" y="78.00" font-size="8.8" text-anchor="start" fill="#222" font-weight="normal" stroke="#222" stroke-width="0.15" transform="rotate(-90 73.10 78.00)" >(110)<tspan font-size="6.8" dy="2.6">γ'</tspan></text>
<text x="80.00" y="100.20" font-size="8.6" text-anchor="start" fill="#222" font-weight="normal" stroke="#222" stroke-width="0.15" transform="rotate(-90 80.00 100.20)" >(111)<tspan font-size="5.6" dy="3.0">TiC</tspan></text>
<text x="89.30" y="102.80" font-size="8.6" text-anchor="start" fill="#222" font-weight="normal" stroke="#222" stroke-width="0.15" transform="rotate(-90 89.30 102.80)" >(100)<tspan font-size="5.8" dy="3.0">TiN</tspan></text>
<text x="112.70" y="80.30" font-size="8.6" text-anchor="start" fill="#222" font-weight="normal" stroke="#222" stroke-width="0.15" transform="rotate(-90 112.70 80.30)" >(200)<tspan font-size="8.4" dy="1.4">TiC</tspan></text>
<text x="112.70" y="42.90" font-size="8.6" text-anchor="start" fill="#222" font-weight="normal" stroke="#222" stroke-width="0.15" transform="rotate(-90 112.70 42.90)" >(311/2)<tspan font-size="6.8" dy="2.4">γ'</tspan></text>
<text x="137.00" y="90.80" font-size="8.6" text-anchor="start" fill="#e01010" font-weight="normal" stroke="#e01010" stroke-width="0.15" transform="rotate(-90 137.00 90.80)" >(220)<tspan font-size="6.2" dy="2.6">M<tspan font-size="4.3">3</tspan>B<tspan font-size="4.3">2</tspan></tspan></text>
<text x="146.00" y="94.00" font-size="8.6" text-anchor="start" fill="#e01010" font-weight="normal" stroke="#e01010" stroke-width="0.15" transform="rotate(-90 146.00 94.00)" >(211)<tspan font-size="6.2" dy="2.6">M<tspan font-size="4.3">3</tspan>B<tspan font-size="4.3">2</tspan></tspan></text>
<text x="154.50" y="116.60" font-size="9.0" text-anchor="start" fill="#222" font-weight="normal" stroke="#222" stroke-width="0.15" transform="rotate(-90 154.50 116.60)" >(440)M<tspan font-size="6" dy="2.4">23</tspan><tspan dy="-2.4">B</tspan><tspan font-size="6" dy="2.4">6</tspan></text>
<text x="146.00" y="196.80" font-size="8.5" text-anchor="start" fill="#222" font-weight="normal" stroke="#222" stroke-width="0.15" transform="rotate(-90 146.00 196.80)" >(104)<tspan font-size="8" dy="2.0">Laves</tspan></text>
<text x="187.00" y="119.60" font-size="8.2" text-anchor="start" fill="#222" font-weight="normal" stroke="#222" stroke-width="0.15" transform="rotate(-90 187.00 119.60)" >(620)M<tspan font-size="6" dy="2.4">23</tspan><tspan dy="-2.4">B</tspan><tspan font-size="6" dy="2.4">6</tspan></text>
<text x="201.00" y="112.60" font-size="8.6" text-anchor="start" fill="#222" font-weight="normal" stroke="#222" stroke-width="0.15" transform="rotate(-90 201.00 112.60)" >(331)2<tspan font-size="6.8" dy="2.4">γ'</tspan></text>
<text x="210.20" y="110.40" font-size="8.1" text-anchor="start" fill="#222" font-weight="normal" stroke="#222" stroke-width="0.15" transform="rotate(-90 210.20 110.40)" >(210)<tspan font-size="6.8" dy="2.4">γ'</tspan></text>
<text x="230.00" y="115.90" font-size="8.5" text-anchor="start" fill="#222" font-weight="normal" stroke="#222" stroke-width="0.15" transform="rotate(-90 230.00 115.90)" >(220)<tspan font-size="8.8" dy="1.0">TiC</tspan></text>
<text x="238.60" y="119.10" font-size="8.0" text-anchor="start" fill="#222" font-weight="normal" stroke="#222" stroke-width="0.15" transform="rotate(-90 238.60 119.10)" >(110)<tspan font-size="6.8" dy="2.6">TiN</tspan></text>
<text x="295.00" y="110.80" font-size="8.8" text-anchor="start" fill="#222" font-weight="normal" stroke="#222" stroke-width="0.15" transform="rotate(-90 295.00 110.80)" >(311)<tspan font-size="9.0" dy="0.6">TiC</tspan></text>
<text x="321.30" y="114.30" font-size="7.9" text-anchor="start" fill="#e01010" font-weight="normal" stroke="#e01010" stroke-width="0.15" transform="rotate(-90 321.30 114.30)" >(331)<tspan font-size="6.8" dy="2.6">M<tspan font-size="4.3">3</tspan>B<tspan font-size="4.3">2</tspan></tspan></text>
<line x1="391.30" y1="10.50" x2="666.90" y2="10.50" stroke="#3a3a3a" stroke-width="1" />
<line x1="391.30" y1="223.30" x2="666.90" y2="223.30" stroke="#3a3a3a" stroke-width="1" />
<line x1="391.30" y1="10.50" x2="391.30" y2="119.50" stroke="#3a3a3a" stroke-width="1" />
<line x1="391.30" y1="122.90" x2="391.30" y2="223.30" stroke="#3a3a3a" stroke-width="1" />
<line x1="666.90" y1="10.50" x2="666.90" y2="119.50" stroke="#3a3a3a" stroke-width="1" />
<line x1="666.90" y1="122.90" x2="666.90" y2="223.30" stroke="#3a3a3a" stroke-width="1" />
<line x1="387.80" y1="121.50" x2="394.80" y2="118.00" stroke="#333" stroke-width="0.9" />
<line x1="387.80" y1="124.60" x2="394.80" y2="121.10" stroke="#333" stroke-width="0.9" />
<line x1="663.40" y1="121.50" x2="670.40" y2="118.00" stroke="#333" stroke-width="0.9" />
<line x1="663.40" y1="124.60" x2="670.40" y2="121.10" stroke="#333" stroke-width="0.9" />
<line x1="387.80" y1="110.40" x2="391.30" y2="110.40" stroke="#3a3a3a" stroke-width="1" />
<text x="385.70" y="114.00" font-size="13" text-anchor="end" fill="#222" font-weight="normal" stroke="#222" stroke-width="0.15" >86</text>
<line x1="387.80" y1="92.16" x2="391.30" y2="92.16" stroke="#3a3a3a" stroke-width="1" />
<text x="385.70" y="95.76" font-size="13" text-anchor="end" fill="#222" font-weight="normal" stroke="#222" stroke-width="0.15" >88</text>
<line x1="387.80" y1="73.92" x2="391.30" y2="73.92" stroke="#3a3a3a" stroke-width="1" />
<text x="385.70" y="77.52" font-size="13" text-anchor="end" fill="#222" font-weight="normal" stroke="#222" stroke-width="0.15" >90</text>
<line x1="387.80" y1="55.68" x2="391.30" y2="55.68" stroke="#3a3a3a" stroke-width="1" />
<text x="385.70" y="59.28" font-size="13" text-anchor="end" fill="#222" font-weight="normal" stroke="#222" stroke-width="0.15" >92</text>
<line x1="387.80" y1="37.44" x2="391.30" y2="37.44" stroke="#3a3a3a" stroke-width="1" />
<text x="385.70" y="41.04" font-size="13" text-anchor="end" fill="#222" font-weight="normal" stroke="#222" stroke-width="0.15" >94</text>
<line x1="387.80" y1="19.20" x2="391.30" y2="19.20" stroke="#3a3a3a" stroke-width="1" />
<text x="385.70" y="22.80" font-size="13" text-anchor="end" fill="#222" font-weight="normal" stroke="#222" stroke-width="0.15" >96</text>
<line x1="389.30" y1="101.28" x2="391.30" y2="101.28" stroke="#3a3a3a" stroke-width="1" />
<line x1="389.30" y1="83.04" x2="391.30" y2="83.04" stroke="#3a3a3a" stroke-width="1" />
<line x1="389.30" y1="64.80" x2="391.30" y2="64.80" stroke="#3a3a3a" stroke-width="1" />
<line x1="389.30" y1="46.56" x2="391.30" y2="46.56" stroke="#3a3a3a" stroke-width="1" />
<line x1="389.30" y1="28.32" x2="391.30" y2="28.32" stroke="#3a3a3a" stroke-width="1" />
<line x1="387.80" y1="213.60" x2="391.30" y2="213.60" stroke="#3a3a3a" stroke-width="1" />
<text x="385.70" y="217.20" font-size="13" text-anchor="end" fill="#222" font-weight="normal" stroke="#222" stroke-width="0.15" >0</text>
<line x1="387.80" y1="195.44" x2="391.30" y2="195.44" stroke="#3a3a3a" stroke-width="1" />
<text x="385.70" y="199.04" font-size="13" text-anchor="end" fill="#222" font-weight="normal" stroke="#222" stroke-width="0.15" >2</text>
<line x1="387.80" y1="177.28" x2="391.30" y2="177.28" stroke="#3a3a3a" stroke-width="1" />
<text x="385.70" y="180.88" font-size="13" text-anchor="end" fill="#222" font-weight="normal" stroke="#222" stroke-width="0.15" >4</text>
<line x1="387.80" y1="159.12" x2="391.30" y2="159.12" stroke="#3a3a3a" stroke-width="1" />
<text x="385.70" y="162.72" font-size="13" text-anchor="end" fill="#222" font-weight="normal" stroke="#222" stroke-width="0.15" >6</text>
<line x1="387.80" y1="140.96" x2="391.30" y2="140.96" stroke="#3a3a3a" stroke-width="1" />
<text x="385.70" y="144.56" font-size="13" text-anchor="end" fill="#222" font-weight="normal" stroke="#222" stroke-width="0.15" >8</text>
<line x1="389.30" y1="222.68" x2="391.30" y2="222.68" stroke="#3a3a3a" stroke-width="1" />
<line x1="389.30" y1="204.52" x2="391.30" y2="204.52" stroke="#3a3a3a" stroke-width="1" />
<line x1="389.30" y1="186.36" x2="391.30" y2="186.36" stroke="#3a3a3a" stroke-width="1" />
<line x1="389.30" y1="168.20" x2="391.30" y2="168.20" stroke="#3a3a3a" stroke-width="1" />
<line x1="389.30" y1="150.04" x2="391.30" y2="150.04" stroke="#3a3a3a" stroke-width="1" />
<line x1="389.30" y1="131.88" x2="391.30" y2="131.88" stroke="#3a3a3a" stroke-width="1" />
<line x1="419.00" y1="223.30" x2="419.00" y2="226.30" stroke="#3a3a3a" stroke-width="1" />
<line x1="474.00" y1="223.30" x2="474.00" y2="226.30" stroke="#3a3a3a" stroke-width="1" />
<line x1="529.00" y1="223.30" x2="529.00" y2="226.30" stroke="#3a3a3a" stroke-width="1" />
<line x1="584.00" y1="223.30" x2="584.00" y2="226.30" stroke="#3a3a3a" stroke-width="1" />
<line x1="639.00" y1="223.30" x2="639.00" y2="226.30" stroke="#3a3a3a" stroke-width="1" />
<text x="401.80" y="237.70" font-size="10.6" text-anchor="start" fill="#222" font-weight="normal" stroke="#222" stroke-width="0.15"  textLength="42.1" lengthAdjust="spacingAndGlyphs">Alloy 718</text>
<text x="454.40" y="237.70" font-size="10.6" text-anchor="start" fill="#222" font-weight="normal" stroke="#222" stroke-width="0.15"  textLength="49.8" lengthAdjust="spacingAndGlyphs">1.25% TiB<tspan font-size="7.6" dy="2.6">2</tspan></text>
<text x="512.80" y="237.70" font-size="10.6" text-anchor="start" fill="#222" font-weight="normal" stroke="#222" stroke-width="0.15"  textLength="45.6" lengthAdjust="spacingAndGlyphs">2.5% TiB<tspan font-size="7.6" dy="2.6">2</tspan></text>
<text x="563.80" y="237.70" font-size="10.6" text-anchor="start" fill="#222" font-weight="normal" stroke="#222" stroke-width="0.15"  textLength="50.5" lengthAdjust="spacingAndGlyphs">3.75% TiB<tspan font-size="7.6" dy="2.6">2</tspan></text>
<text x="624.60" y="237.70" font-size="10.6" text-anchor="start" fill="#222" font-weight="normal" stroke="#222" stroke-width="0.15"  textLength="44.5" lengthAdjust="spacingAndGlyphs">5.0% TiB<tspan font-size="7.6" dy="2.6">2</tspan></text>
<text x="366.20" y="106.10" font-size="12.65" text-anchor="middle" fill="#222" font-weight="normal" stroke="#222" stroke-width="0.15" transform="rotate(-90 366.20 106.10)" >Volume fraction, %</text>
<text x="344.00" y="23.00" font-size="22.5" text-anchor="start" fill="#000" font-weight="bold" >b)</text>
<polyline points="419.00,56.14 474.00,19.20 529.00,32.70 584.00,56.87 639.00,93.07" fill="none" stroke="#a23c4a" stroke-width="1.1"/>
<circle cx="419.00" cy="56.14" r="5.55" fill="#fff" stroke="#a23c4a" stroke-width="1.2"/>
<circle cx="474.00" cy="19.20" r="5.55" fill="#fff" stroke="#a23c4a" stroke-width="1.2"/>
<circle cx="529.00" cy="32.70" r="5.55" fill="#fff" stroke="#a23c4a" stroke-width="1.2"/>
<circle cx="584.00" cy="56.87" r="5.55" fill="#fff" stroke="#a23c4a" stroke-width="1.2"/>
<circle cx="639.00" cy="93.07" r="5.55" fill="#fff" stroke="#a23c4a" stroke-width="1.2"/>
<polyline points="419.00,140.05 474.00,203.61 529.00,213.60 584.00,213.60 639.00,213.60" fill="none" stroke="#2e2e2e" stroke-width="1.1"/>
<polyline points="419.00,213.60 474.00,202.70 529.00,199.07 584.00,204.70 639.00,204.70" fill="none" stroke="#3a913a" stroke-width="1.1"/>
<polyline points="419.00,213.60 474.00,209.24 529.00,202.79 584.00,195.17 639.00,178.19" fill="none" stroke="#e0404a" stroke-width="1.1"/>
<polyline points="419.00,213.60 474.00,203.61 529.00,188.36 584.00,166.02 639.00,148.50" fill="none" stroke="#7d46d8" stroke-width="1.1"/>
<circle cx="419.00" cy="140.05" r="5.55" fill="#fff" stroke="#2e2e2e" stroke-width="1.2"/>
<circle cx="474.00" cy="203.61" r="5.55" fill="#fff" stroke="#2e2e2e" stroke-width="1.2"/>
<circle cx="529.00" cy="213.60" r="5.55" fill="#fff" stroke="#2e2e2e" stroke-width="1.2"/>
<circle cx="584.00" cy="213.60" r="5.55" fill="#fff" stroke="#2e2e2e" stroke-width="1.2"/>
<circle cx="639.00" cy="213.60" r="5.55" fill="#fff" stroke="#2e2e2e" stroke-width="1.2"/>
<circle cx="419.00" cy="213.60" r="5.55" fill="#fff" stroke="#3a913a" stroke-width="1.2"/>
<circle cx="474.00" cy="202.70" r="5.55" fill="#fff" stroke="#3a913a" stroke-width="1.2"/>
<circle cx="529.00" cy="199.07" r="5.55" fill="#fff" stroke="#3a913a" stroke-width="1.2"/>
<circle cx="584.00" cy="204.70" r="5.55" fill="#fff" stroke="#3a913a" stroke-width="1.2"/>
<circle cx="639.00" cy="204.70" r="5.55" fill="#fff" stroke="#3a913a" stroke-width="1.2"/>
<circle cx="419.00" cy="213.60" r="5.55" fill="#fff" stroke="#e0404a" stroke-width="1.2"/>
<circle cx="474.00" cy="209.24" r="5.55" fill="#fff" stroke="#e0404a" stroke-width="1.2"/>
<circle cx="529.00" cy="202.79" r="5.55" fill="#fff" stroke="#e0404a" stroke-width="1.2"/>
<circle cx="584.00" cy="195.17" r="5.55" fill="#fff" stroke="#e0404a" stroke-width="1.2"/>
<circle cx="639.00" cy="178.19" r="5.55" fill="#fff" stroke="#e0404a" stroke-width="1.2"/>
<circle cx="419.00" cy="213.60" r="5.55" fill="#fff" stroke="#7d46d8" stroke-width="1.2"/>
<circle cx="474.00" cy="203.61" r="5.55" fill="#fff" stroke="#7d46d8" stroke-width="1.2"/>
<circle cx="529.00" cy="188.36" r="5.55" fill="#fff" stroke="#7d46d8" stroke-width="1.2"/>
<circle cx="584.00" cy="166.02" r="5.55" fill="#fff" stroke="#7d46d8" stroke-width="1.2"/>
<circle cx="639.00" cy="148.50" r="5.55" fill="#fff" stroke="#7d46d8" stroke-width="1.2"/>
<line x1="400.30" y1="72.40" x2="405.20" y2="72.40" stroke="#a23c4a" stroke-width="1.1" />
<line x1="418.50" y1="72.40" x2="423.30" y2="72.40" stroke="#a23c4a" stroke-width="1.1" />
<circle cx="411.80" cy="72.40" r="5.45" fill="#fff" stroke="#a23c4a" stroke-width="1.2"/>
<text x="425.50" y="75.70" font-size="10.2" text-anchor="start" fill="#222" font-weight="normal" stroke="#222" stroke-width="0.15"  textLength="31.7" lengthAdjust="spacingAndGlyphs">γ matrix</text>
<line x1="400.30" y1="84.20" x2="405.20" y2="84.20" stroke="#2e2e2e" stroke-width="1.1" />
<line x1="418.50" y1="84.20" x2="423.30" y2="84.20" stroke="#2e2e2e" stroke-width="1.1" />
<circle cx="411.80" cy="84.20" r="5.45" fill="#fff" stroke="#2e2e2e" stroke-width="1.2"/>
<text x="425.50" y="87.50" font-size="10.2" text-anchor="start" fill="#222" font-weight="normal" stroke="#222" stroke-width="0.15"  textLength="47.8" lengthAdjust="spacingAndGlyphs">Laves phase</text>
<line x1="400.30" y1="96.20" x2="405.20" y2="96.20" stroke="#3a913a" stroke-width="1.1" />
<line x1="418.50" y1="96.20" x2="423.30" y2="96.20" stroke="#3a913a" stroke-width="1.1" />
<circle cx="411.80" cy="96.20" r="5.45" fill="#fff" stroke="#3a913a" stroke-width="1.2"/>
<text x="425.50" y="99.50" font-size="10.2" text-anchor="start" fill="#222" font-weight="normal" stroke="#222" stroke-width="0.15"  textLength="47.3" lengthAdjust="spacingAndGlyphs">TiN nitrides</text>
<line x1="400.30" y1="108.30" x2="405.20" y2="108.30" stroke="#e0404a" stroke-width="1.1" />
<line x1="418.50" y1="108.30" x2="423.30" y2="108.30" stroke="#e0404a" stroke-width="1.1" />
<circle cx="411.80" cy="108.30" r="5.45" fill="#fff" stroke="#e0404a" stroke-width="1.2"/>
<text x="425.50" y="111.60" font-size="10.2" text-anchor="start" fill="#222" font-weight="normal" stroke="#222" stroke-width="0.15"  textLength="50.3" lengthAdjust="spacingAndGlyphs">MC carbides</text>
<line x1="400.30" y1="120.40" x2="405.20" y2="120.40" stroke="#7d46d8" stroke-width="1.1" />
<line x1="418.50" y1="120.40" x2="423.30" y2="120.40" stroke="#7d46d8" stroke-width="1.1" />
<circle cx="411.80" cy="120.40" r="5.45" fill="#fff" stroke="#7d46d8" stroke-width="1.2"/>
<text x="425.50" y="123.70" font-size="10.2" text-anchor="start" fill="#222" font-weight="normal" stroke="#222" stroke-width="0.15"  textLength="53.3" lengthAdjust="spacingAndGlyphs">M<tspan font-size="7" dy="2">3</tspan><tspan dy="-2">B</tspan><tspan font-size="7" dy="2">2</tspan><tspan dy="-2"> borides</tspan></text>
<line x1="56.30" y1="271.30" x2="319.50" y2="271.30" stroke="#3a3a3a" stroke-width="1" />
<line x1="56.30" y1="483.50" x2="319.50" y2="483.50" stroke="#3a3a3a" stroke-width="1" />
<line x1="319.50" y1="271.30" x2="319.50" y2="483.50" stroke="#3a3a3a" stroke-width="1" />
<line x1="56.30" y1="271.30" x2="56.30" y2="483.50" stroke="#358c35" stroke-width="1.1" />
<line x1="52.30" y1="483.50" x2="56.30" y2="483.50" stroke="#358c35" stroke-width="1" />
<text x="51.90" y="487.50" font-size="12.7" text-anchor="end" fill="#358c35" font-weight="normal" stroke="#358c35" stroke-width="0.15" >3.56</text>
<line x1="52.30" y1="456.98" x2="56.30" y2="456.98" stroke="#358c35" stroke-width="1" />
<text x="51.90" y="460.98" font-size="12.7" text-anchor="end" fill="#358c35" font-weight="normal" stroke="#358c35" stroke-width="0.15" >3.57</text>
<line x1="52.30" y1="430.45" x2="56.30" y2="430.45" stroke="#358c35" stroke-width="1" />
<text x="51.90" y="434.45" font-size="12.7" text-anchor="end" fill="#358c35" font-weight="normal" stroke="#358c35" stroke-width="0.15" >3.58</text>
<line x1="52.30" y1="403.93" x2="56.30" y2="403.93" stroke="#358c35" stroke-width="1" />
<text x="51.90" y="407.93" font-size="12.7" text-anchor="end" fill="#358c35" font-weight="normal" stroke="#358c35" stroke-width="0.15" >3.59</text>
<line x1="52.30" y1="377.40" x2="56.30" y2="377.40" stroke="#358c35" stroke-width="1" />
<text x="51.90" y="381.40" font-size="12.7" text-anchor="end" fill="#358c35" font-weight="normal" stroke="#358c35" stroke-width="0.15" >3.60</text>
<line x1="52.30" y1="350.88" x2="56.30" y2="350.88" stroke="#358c35" stroke-width="1" />
<text x="51.90" y="354.88" font-size="12.7" text-anchor="end" fill="#358c35" font-weight="normal" stroke="#358c35" stroke-width="0.15" >3.61</text>
<line x1="52.30" y1="324.35" x2="56.30" y2="324.35" stroke="#358c35" stroke-width="1" />
<text x="51.90" y="328.35" font-size="12.7" text-anchor="end" fill="#358c35" font-weight="normal" stroke="#358c35" stroke-width="0.15" >3.62</text>
<line x1="52.30" y1="297.83" x2="56.30" y2="297.83" stroke="#358c35" stroke-width="1" />
<text x="51.90" y="301.83" font-size="12.7" text-anchor="end" fill="#358c35" font-weight="normal" stroke="#358c35" stroke-width="0.15" >3.63</text>
<line x1="52.30" y1="271.30" x2="56.30" y2="271.30" stroke="#358c35" stroke-width="1" />
<text x="51.90" y="275.30" font-size="12.7" text-anchor="end" fill="#358c35" font-weight="normal" stroke="#358c35" stroke-width="0.15" >3.64</text>
<line x1="54.30" y1="470.24" x2="56.30" y2="470.24" stroke="#358c35" stroke-width="1" />
<line x1="54.30" y1="443.71" x2="56.30" y2="443.71" stroke="#358c35" stroke-width="1" />
<line x1="54.30" y1="417.19" x2="56.30" y2="417.19" stroke="#358c35" stroke-width="1" />
<line x1="54.30" y1="390.66" x2="56.30" y2="390.66" stroke="#358c35" stroke-width="1" />
<line x1="54.30" y1="364.14" x2="56.30" y2="364.14" stroke="#358c35" stroke-width="1" />
<line x1="54.30" y1="337.61" x2="56.30" y2="337.61" stroke="#358c35" stroke-width="1" />
<line x1="54.30" y1="311.09" x2="56.30" y2="311.09" stroke="#358c35" stroke-width="1" />
<line x1="54.30" y1="284.56" x2="56.30" y2="284.56" stroke="#358c35" stroke-width="1" />
<line x1="319.50" y1="483.50" x2="323.00" y2="483.50" stroke="#3a3a3a" stroke-width="1" />
<text x="322.10" y="487.40" font-size="12.7" text-anchor="start" fill="#dc3a46" font-weight="normal" stroke="#dc3a46" stroke-width="0.15" >4.32</text>
<line x1="319.50" y1="441.06" x2="323.00" y2="441.06" stroke="#3a3a3a" stroke-width="1" />
<text x="322.10" y="444.96" font-size="12.7" text-anchor="start" fill="#dc3a46" font-weight="normal" stroke="#dc3a46" stroke-width="0.15" >4.34</text>
<line x1="319.50" y1="398.62" x2="323.00" y2="398.62" stroke="#3a3a3a" stroke-width="1" />
<text x="322.10" y="402.52" font-size="12.7" text-anchor="start" fill="#dc3a46" font-weight="normal" stroke="#dc3a46" stroke-width="0.15" >4.36</text>
<line x1="319.50" y1="356.18" x2="323.00" y2="356.18" stroke="#3a3a3a" stroke-width="1" />
<text x="322.10" y="360.08" font-size="12.7" text-anchor="start" fill="#dc3a46" font-weight="normal" stroke="#dc3a46" stroke-width="0.15" >4.38</text>
<line x1="319.50" y1="313.74" x2="323.00" y2="313.74" stroke="#3a3a3a" stroke-width="1" />
<text x="322.10" y="317.64" font-size="12.7" text-anchor="start" fill="#dc3a46" font-weight="normal" stroke="#dc3a46" stroke-width="0.15" >4.40</text>
<line x1="319.50" y1="271.30" x2="323.00" y2="271.30" stroke="#3a3a3a" stroke-width="1" />
<text x="322.10" y="275.20" font-size="12.7" text-anchor="start" fill="#dc3a46" font-weight="normal" stroke="#dc3a46" stroke-width="0.15" >4.42</text>
<line x1="319.50" y1="462.28" x2="321.50" y2="462.28" stroke="#3a3a3a" stroke-width="1" />
<line x1="319.50" y1="419.84" x2="321.50" y2="419.84" stroke="#3a3a3a" stroke-width="1" />
<line x1="319.50" y1="377.40" x2="321.50" y2="377.40" stroke="#3a3a3a" stroke-width="1" />
<line x1="319.50" y1="334.96" x2="321.50" y2="334.96" stroke="#3a3a3a" stroke-width="1" />
<line x1="319.50" y1="292.52" x2="321.50" y2="292.52" stroke="#3a3a3a" stroke-width="1" />
<line x1="82.50" y1="483.50" x2="82.50" y2="486.70" stroke="#3a3a3a" stroke-width="1" />
<line x1="135.00" y1="483.50" x2="135.00" y2="486.70" stroke="#3a3a3a" stroke-width="1" />
<line x1="187.40" y1="483.50" x2="187.40" y2="486.70" stroke="#3a3a3a" stroke-width="1" />
<line x1="240.00" y1="483.50" x2="240.00" y2="486.70" stroke="#3a3a3a" stroke-width="1" />
<line x1="292.60" y1="483.50" x2="292.60" y2="486.70" stroke="#3a3a3a" stroke-width="1" />
<text x="63.20" y="500.30" font-size="10.6" text-anchor="start" fill="#222" font-weight="normal" stroke="#222" stroke-width="0.15"  textLength="42.3" lengthAdjust="spacingAndGlyphs">Alloy 718</text>
<text x="115.60" y="500.30" font-size="10.6" text-anchor="start" fill="#222" font-weight="normal" stroke="#222" stroke-width="0.15"  textLength="49.9" lengthAdjust="spacingAndGlyphs">1.25% TiB<tspan font-size="7.6" dy="2.6">2</tspan></text>
<text x="169.20" y="500.30" font-size="10.6" text-anchor="start" fill="#222" font-weight="normal" stroke="#222" stroke-width="0.15"  textLength="45.5" lengthAdjust="spacingAndGlyphs">2.5% TiB<tspan font-size="7.6" dy="2.6">2</tspan></text>
<text x="218.30" y="500.30" font-size="10.6" text-anchor="start" fill="#222" font-weight="normal" stroke="#222" stroke-width="0.15"  textLength="50.0" lengthAdjust="spacingAndGlyphs">3.75% TiB<tspan font-size="7.6" dy="2.6">2</tspan></text>
<text x="277.40" y="500.30" font-size="10.6" text-anchor="start" fill="#222" font-weight="normal" stroke="#222" stroke-width="0.15"  textLength="46.4" lengthAdjust="spacingAndGlyphs">5.0% TiB<tspan font-size="7.6" dy="2.6">2</tspan></text>
<text x="28.50" y="373.00" font-size="12.5" text-anchor="middle" fill="#222" font-weight="normal" stroke="#222" stroke-width="0.15" transform="rotate(-90 28.50 373.00)" >Lattice parameter, Å</text>
<text x="1.50" y="263.80" font-size="22.5" text-anchor="start" fill="#000" font-weight="bold" >c)</text>
<polyline points="82.50,395.40 135.00,395.40 187.40,395.40 240.00,395.40 292.60,395.40" fill="none" stroke="#358c35" stroke-width="1.1"/>
<circle cx="82.50" cy="395.40" r="5.55" fill="#fff" stroke="#358c35" stroke-width="1.2"/>
<circle cx="135.00" cy="395.40" r="5.55" fill="#fff" stroke="#358c35" stroke-width="1.2"/>
<circle cx="187.40" cy="395.40" r="5.55" fill="#fff" stroke="#358c35" stroke-width="1.2"/>
<circle cx="240.00" cy="395.40" r="5.55" fill="#fff" stroke="#358c35" stroke-width="1.2"/>
<circle cx="292.60" cy="395.40" r="5.55" fill="#fff" stroke="#358c35" stroke-width="1.2"/>
<polyline points="135.00,283.80 187.40,368.50 240.00,420.60 292.60,451.90" fill="none" stroke="#dc3a46" stroke-width="1.1"/>
<circle cx="135.00" cy="283.80" r="5.55" fill="#fff" stroke="#dc3a46" stroke-width="1.2"/>
<circle cx="187.40" cy="368.50" r="5.55" fill="#fff" stroke="#dc3a46" stroke-width="1.2"/>
<circle cx="240.00" cy="420.60" r="5.55" fill="#fff" stroke="#dc3a46" stroke-width="1.2"/>
<circle cx="292.60" cy="451.90" r="5.55" fill="#fff" stroke="#dc3a46" stroke-width="1.2"/>
<line x1="219.60" y1="283.00" x2="247.20" y2="283.00" stroke="#358c35" stroke-width="1.1" />
<circle cx="233.40" cy="283.00" r="5.55" fill="#fff" stroke="#358c35" stroke-width="1.2"/>
<text x="250.30" y="286.80" font-size="12" text-anchor="start" fill="#222" font-weight="normal" stroke="#222" stroke-width="0.15" >γ matrix</text>
<line x1="219.60" y1="298.40" x2="225.00" y2="298.40" stroke="#dc3a46" stroke-width="1.1" />
<line x1="241.50" y1="298.40" x2="247.20" y2="298.40" stroke="#dc3a46" stroke-width="1.1" />
<circle cx="233.40" cy="298.40" r="5.55" fill="#fff" stroke="#dc3a46" stroke-width="1.2"/>
<text x="250.30" y="302.20" font-size="12" text-anchor="start" fill="#222" font-weight="normal" stroke="#222" stroke-width="0.15" >MC carbides</text>
<line x1="392.20" y1="271.30" x2="655.80" y2="271.30" stroke="#3a3a3a" stroke-width="1" />
<line x1="392.20" y1="483.50" x2="655.80" y2="483.50" stroke="#3a3a3a" stroke-width="1" />
<line x1="655.80" y1="271.30" x2="655.80" y2="483.50" stroke="#3a3a3a" stroke-width="1" />
<line x1="392.20" y1="271.30" x2="392.20" y2="483.50" stroke="#358c35" stroke-width="1.1" />
<line x1="388.20" y1="483.50" x2="392.20" y2="483.50" stroke="#358c35" stroke-width="1" />
<text x="388.50" y="487.30" font-size="12.7" text-anchor="end" fill="#358c35" font-weight="normal" stroke="#358c35" stroke-width="0.15" >5.62</text>
<line x1="388.20" y1="430.45" x2="392.20" y2="430.45" stroke="#358c35" stroke-width="1" />
<text x="388.50" y="434.25" font-size="12.7" text-anchor="end" fill="#358c35" font-weight="normal" stroke="#358c35" stroke-width="0.15" >5.63</text>
<line x1="388.20" y1="377.40" x2="392.20" y2="377.40" stroke="#358c35" stroke-width="1" />
<text x="388.50" y="381.20" font-size="12.7" text-anchor="end" fill="#358c35" font-weight="normal" stroke="#358c35" stroke-width="0.15" >5.64</text>
<line x1="388.20" y1="324.35" x2="392.20" y2="324.35" stroke="#358c35" stroke-width="1" />
<text x="388.50" y="328.15" font-size="12.7" text-anchor="end" fill="#358c35" font-weight="normal" stroke="#358c35" stroke-width="0.15" >5.65</text>
<line x1="388.20" y1="271.30" x2="392.20" y2="271.30" stroke="#358c35" stroke-width="1" />
<text x="388.50" y="275.10" font-size="12.7" text-anchor="end" fill="#358c35" font-weight="normal" stroke="#358c35" stroke-width="0.15" >5.66</text>
<line x1="390.20" y1="456.98" x2="392.20" y2="456.98" stroke="#358c35" stroke-width="1" />
<line x1="390.20" y1="403.93" x2="392.20" y2="403.93" stroke="#358c35" stroke-width="1" />
<line x1="390.20" y1="350.88" x2="392.20" y2="350.88" stroke="#358c35" stroke-width="1" />
<line x1="390.20" y1="297.82" x2="392.20" y2="297.82" stroke="#358c35" stroke-width="1" />
<line x1="655.80" y1="483.50" x2="659.30" y2="483.50" stroke="#3a3a3a" stroke-width="1" />
<text x="659.10" y="487.50" font-size="12.7" text-anchor="start" fill="#dc3a46" font-weight="normal" stroke="#dc3a46" stroke-width="0.15" >3.06</text>
<line x1="655.80" y1="456.98" x2="659.30" y2="456.98" stroke="#3a3a3a" stroke-width="1" />
<text x="659.10" y="460.98" font-size="12.7" text-anchor="start" fill="#dc3a46" font-weight="normal" stroke="#dc3a46" stroke-width="0.15" >3.07</text>
<line x1="655.80" y1="430.45" x2="659.30" y2="430.45" stroke="#3a3a3a" stroke-width="1" />
<text x="659.10" y="434.45" font-size="12.7" text-anchor="start" fill="#dc3a46" font-weight="normal" stroke="#dc3a46" stroke-width="0.15" >3.08</text>
<line x1="655.80" y1="403.93" x2="659.30" y2="403.93" stroke="#3a3a3a" stroke-width="1" />
<text x="659.10" y="407.93" font-size="12.7" text-anchor="start" fill="#dc3a46" font-weight="normal" stroke="#dc3a46" stroke-width="0.15" >3.09</text>
<line x1="655.80" y1="377.40" x2="659.30" y2="377.40" stroke="#3a3a3a" stroke-width="1" />
<text x="659.10" y="381.40" font-size="12.7" text-anchor="start" fill="#dc3a46" font-weight="normal" stroke="#dc3a46" stroke-width="0.15" >3.10</text>
<line x1="655.80" y1="350.88" x2="659.30" y2="350.88" stroke="#3a3a3a" stroke-width="1" />
<text x="659.10" y="354.88" font-size="12.7" text-anchor="start" fill="#dc3a46" font-weight="normal" stroke="#dc3a46" stroke-width="0.15" >3.11</text>
<line x1="655.80" y1="324.35" x2="659.30" y2="324.35" stroke="#3a3a3a" stroke-width="1" />
<text x="659.10" y="328.35" font-size="12.7" text-anchor="start" fill="#dc3a46" font-weight="normal" stroke="#dc3a46" stroke-width="0.15" >3.12</text>
<line x1="655.80" y1="297.83" x2="659.30" y2="297.83" stroke="#3a3a3a" stroke-width="1" />
<text x="659.10" y="301.83" font-size="12.7" text-anchor="start" fill="#dc3a46" font-weight="normal" stroke="#dc3a46" stroke-width="0.15" >3.13</text>
<line x1="655.80" y1="271.30" x2="659.30" y2="271.30" stroke="#3a3a3a" stroke-width="1" />
<text x="659.10" y="275.30" font-size="12.7" text-anchor="start" fill="#dc3a46" font-weight="normal" stroke="#dc3a46" stroke-width="0.15" >3.14</text>
<line x1="655.80" y1="470.24" x2="657.80" y2="470.24" stroke="#3a3a3a" stroke-width="1" />
<line x1="655.80" y1="443.71" x2="657.80" y2="443.71" stroke="#3a3a3a" stroke-width="1" />
<line x1="655.80" y1="417.19" x2="657.80" y2="417.19" stroke="#3a3a3a" stroke-width="1" />
<line x1="655.80" y1="390.66" x2="657.80" y2="390.66" stroke="#3a3a3a" stroke-width="1" />
<line x1="655.80" y1="364.14" x2="657.80" y2="364.14" stroke="#3a3a3a" stroke-width="1" />
<line x1="655.80" y1="337.61" x2="657.80" y2="337.61" stroke="#3a3a3a" stroke-width="1" />
<line x1="655.80" y1="311.09" x2="657.80" y2="311.09" stroke="#3a3a3a" stroke-width="1" />
<line x1="655.80" y1="284.56" x2="657.80" y2="284.56" stroke="#3a3a3a" stroke-width="1" />
<line x1="418.50" y1="483.50" x2="418.50" y2="486.70" stroke="#3a3a3a" stroke-width="1" />
<line x1="471.10" y1="483.50" x2="471.10" y2="486.70" stroke="#3a3a3a" stroke-width="1" />
<line x1="523.70" y1="483.50" x2="523.70" y2="486.70" stroke="#3a3a3a" stroke-width="1" />
<line x1="576.30" y1="483.50" x2="576.30" y2="486.70" stroke="#3a3a3a" stroke-width="1" />
<line x1="628.90" y1="483.50" x2="628.90" y2="486.70" stroke="#3a3a3a" stroke-width="1" />
<text x="399.20" y="500.30" font-size="10.6" text-anchor="start" fill="#222" font-weight="normal" stroke="#222" stroke-width="0.15"  textLength="42.5" lengthAdjust="spacingAndGlyphs">Alloy 718</text>
<text x="452.20" y="500.30" font-size="10.6" text-anchor="start" fill="#222" font-weight="normal" stroke="#222" stroke-width="0.15"  textLength="50.4" lengthAdjust="spacingAndGlyphs">1.25% TiB<tspan font-size="7.6" dy="2.6">2</tspan></text>
<text x="505.20" y="500.30" font-size="10.6" text-anchor="start" fill="#222" font-weight="normal" stroke="#222" stroke-width="0.15"  textLength="45.9" lengthAdjust="spacingAndGlyphs">2.5% TiB<tspan font-size="7.6" dy="2.6">2</tspan></text>
<text x="553.80" y="500.30" font-size="10.6" text-anchor="start" fill="#222" font-weight="normal" stroke="#222" stroke-width="0.15"  textLength="50.5" lengthAdjust="spacingAndGlyphs">3.75% TiB<tspan font-size="7.6" dy="2.6">2</tspan></text>
<text x="614.60" y="500.30" font-size="10.6" text-anchor="start" fill="#222" font-weight="normal" stroke="#222" stroke-width="0.15"  textLength="43.7" lengthAdjust="spacingAndGlyphs">5.0% TiB<tspan font-size="7.6" dy="2.6">2</tspan></text>
<text x="365.10" y="372.80" font-size="12.5" text-anchor="middle" fill="#222" font-weight="normal" stroke="#222" stroke-width="0.15" transform="rotate(-90 365.10 372.80)" >Lattice parameter, Å</text>
<text x="347.00" y="263.90" font-size="22.5" text-anchor="start" fill="#000" font-weight="bold" >d)</text>
<polyline points="471.00,280.90 523.60,307.50 576.40,356.30 629.00,456.40" fill="none" stroke="#358c35" stroke-width="1.1"/>
<polyline points="471.00,276.70 523.60,382.00 576.40,434.40 629.00,456.50" fill="none" stroke="#dc3a46" stroke-width="1.1"/>
<circle cx="471.00" cy="280.90" r="5.55" fill="#fff" stroke="#358c35" stroke-width="1.2"/>
<circle cx="523.60" cy="307.50" r="5.55" fill="#fff" stroke="#358c35" stroke-width="1.2"/>
<circle cx="576.40" cy="356.30" r="5.55" fill="#fff" stroke="#358c35" stroke-width="1.2"/>
<circle cx="629.00" cy="456.40" r="5.55" fill="#fff" stroke="#358c35" stroke-width="1.2"/>
<circle cx="471.00" cy="276.70" r="5.55" fill="#fff" stroke="#dc3a46" stroke-width="1.2"/>
<circle cx="523.60" cy="382.00" r="5.55" fill="#fff" stroke="#dc3a46" stroke-width="1.2"/>
<circle cx="576.40" cy="434.40" r="5.55" fill="#fff" stroke="#dc3a46" stroke-width="1.2"/>
<circle cx="629.00" cy="456.50" r="5.55" fill="#fff" stroke="#dc3a46" stroke-width="1.2"/>
<line x1="574.60" y1="282.70" x2="603.10" y2="282.70" stroke="#358c35" stroke-width="1.1" />
<circle cx="588.90" cy="282.70" r="5.75" fill="#fff" stroke="#358c35" stroke-width="1.2"/>
<text x="606.40" y="286.80" font-size="12" text-anchor="start" fill="#222" font-weight="normal" stroke="#222" stroke-width="0.15" >M<tspan font-size="8" dy="2.5">3</tspan><tspan dy="-2.5">B</tspan><tspan font-size="8" dy="2.5">2</tspan><tspan dy="-2.5"> (a)</tspan></text>
<line x1="574.60" y1="300.70" x2="580.00" y2="300.70" stroke="#dc3a46" stroke-width="1.1" />
<line x1="597.50" y1="300.70" x2="603.10" y2="300.70" stroke="#dc3a46" stroke-width="1.1" />
<circle cx="588.90" cy="300.70" r="5.75" fill="#fff" stroke="#dc3a46" stroke-width="1.2"/>
<text x="606.40" y="304.80" font-size="12" text-anchor="start" fill="#222" font-weight="normal" stroke="#222" stroke-width="0.15" >M<tspan font-size="8" dy="2.5">3</tspan><tspan dy="-2.5">B</tspan><tspan font-size="8" dy="2.5">2</tspan><tspan dy="-2.5"> (c)</tspan></text>
</svg>
</body></html>
